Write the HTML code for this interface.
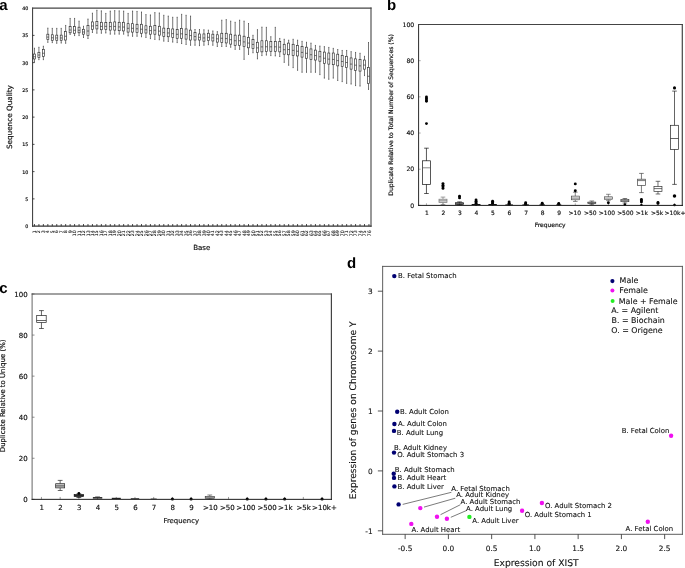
<!DOCTYPE html>
<html lang="en">
<head>
<meta charset="utf-8">
<title>Figure: sequence quality, duplication levels and sex-gene expression</title>
<style>
html,body{margin:0;padding:0;background:#fff;}
body{width:685px;height:568px;overflow:hidden;}
svg{display:block;}
text{font-family:"DejaVu Sans", "Liberation Sans", sans-serif;stroke:#111;stroke-width:0.17px;}
text.pl{font-family:"Liberation Sans", "DejaVu Sans", sans-serif;stroke:none;}
#panel-d text{stroke-width:0.1px;}
</style>
</head>
<body>
<svg width="685" height="568" viewBox="0 0 685 568" text-rendering="geometricPrecision">
<rect x="0" y="0" width="685" height="568" fill="#ffffff"/>
<g id="panel-a" font-family='"DejaVu Sans", "Liberation Sans", sans-serif'>
<line x1="32.6" y1="7.6" x2="32.6" y2="226.7" stroke="#333" stroke-width="1.0" />
<line x1="371" y1="7.6" x2="371" y2="226.7" stroke="#444" stroke-width="1.1" />
<line x1="32.1" y1="8.15" x2="371.55" y2="8.15" stroke="#444" stroke-width="1.1" />
<line x1="32.1" y1="226.1" x2="371.55" y2="226.1" stroke="#333" stroke-width="1.2" />
<text x="28.3" y="228.1" font-size="4.8" text-anchor="end" fill="#000" >0</text>
<line x1="32.6" y1="198.86" x2="34.5" y2="198.86" stroke="#222" stroke-width="0.8" />
<text x="28.3" y="200.86" font-size="4.8" text-anchor="end" fill="#000" >5</text>
<line x1="32.6" y1="171.61" x2="34.5" y2="171.61" stroke="#222" stroke-width="0.8" />
<text x="28.3" y="173.61" font-size="4.8" text-anchor="end" fill="#000" >10</text>
<line x1="32.6" y1="144.37" x2="34.5" y2="144.37" stroke="#222" stroke-width="0.8" />
<text x="28.3" y="146.37" font-size="4.8" text-anchor="end" fill="#000" >15</text>
<line x1="32.6" y1="117.12" x2="34.5" y2="117.12" stroke="#222" stroke-width="0.8" />
<text x="28.3" y="119.12" font-size="4.8" text-anchor="end" fill="#000" >20</text>
<line x1="32.6" y1="89.88" x2="34.5" y2="89.88" stroke="#222" stroke-width="0.8" />
<text x="28.3" y="91.88" font-size="4.8" text-anchor="end" fill="#000" >25</text>
<line x1="32.6" y1="62.64" x2="34.5" y2="62.64" stroke="#222" stroke-width="0.8" />
<text x="28.3" y="64.64" font-size="4.8" text-anchor="end" fill="#000" >30</text>
<line x1="32.6" y1="35.39" x2="34.5" y2="35.39" stroke="#222" stroke-width="0.8" />
<text x="28.3" y="37.39" font-size="4.8" text-anchor="end" fill="#000" >35</text>
<text x="28.3" y="10.15" font-size="4.8" text-anchor="end" fill="#000" >40</text>
<line x1="34.45" y1="226.1" x2="34.45" y2="224" stroke="#222" stroke-width="0.8" />
<text x="36.05" y="230.2" font-size="4.7" text-anchor="end" fill="#222" transform="rotate(-90 36.05 230.2)" style="stroke-width:0.08px">1</text>
<line x1="38.91" y1="226.1" x2="38.91" y2="224" stroke="#222" stroke-width="0.8" />
<text x="40.51" y="230.2" font-size="4.7" text-anchor="end" fill="#222" transform="rotate(-90 40.51 230.2)" style="stroke-width:0.08px">2</text>
<line x1="43.37" y1="226.1" x2="43.37" y2="224" stroke="#222" stroke-width="0.8" />
<text x="44.97" y="230.2" font-size="4.7" text-anchor="end" fill="#222" transform="rotate(-90 44.97 230.2)" style="stroke-width:0.08px">3</text>
<line x1="47.83" y1="226.1" x2="47.83" y2="224" stroke="#222" stroke-width="0.8" />
<text x="49.43" y="230.2" font-size="4.7" text-anchor="end" fill="#222" transform="rotate(-90 49.43 230.2)" style="stroke-width:0.08px">4</text>
<line x1="52.29" y1="226.1" x2="52.29" y2="224" stroke="#222" stroke-width="0.8" />
<text x="53.89" y="230.2" font-size="4.7" text-anchor="end" fill="#222" transform="rotate(-90 53.89 230.2)" style="stroke-width:0.08px">5</text>
<line x1="56.75" y1="226.1" x2="56.75" y2="224" stroke="#222" stroke-width="0.8" />
<text x="58.35" y="230.2" font-size="4.7" text-anchor="end" fill="#222" transform="rotate(-90 58.35 230.2)" style="stroke-width:0.08px">6</text>
<line x1="61.21" y1="226.1" x2="61.21" y2="224" stroke="#222" stroke-width="0.8" />
<text x="62.81" y="230.2" font-size="4.7" text-anchor="end" fill="#222" transform="rotate(-90 62.81 230.2)" style="stroke-width:0.08px">7</text>
<line x1="65.67" y1="226.1" x2="65.67" y2="224" stroke="#222" stroke-width="0.8" />
<text x="67.27" y="230.2" font-size="4.7" text-anchor="end" fill="#222" transform="rotate(-90 67.27 230.2)" style="stroke-width:0.08px">8</text>
<line x1="70.13" y1="226.1" x2="70.13" y2="224" stroke="#222" stroke-width="0.8" />
<text x="71.73" y="230.2" font-size="4.7" text-anchor="end" fill="#222" transform="rotate(-90 71.73 230.2)" style="stroke-width:0.08px">9</text>
<line x1="74.59" y1="226.1" x2="74.59" y2="224" stroke="#222" stroke-width="0.8" />
<text x="76.19" y="230.2" font-size="4.7" text-anchor="end" fill="#222" transform="rotate(-90 76.19 230.2)" style="stroke-width:0.08px">10</text>
<line x1="79.05" y1="226.1" x2="79.05" y2="224" stroke="#222" stroke-width="0.8" />
<text x="80.65" y="230.2" font-size="4.7" text-anchor="end" fill="#222" transform="rotate(-90 80.65 230.2)" style="stroke-width:0.08px">11</text>
<line x1="83.51" y1="226.1" x2="83.51" y2="224" stroke="#222" stroke-width="0.8" />
<text x="85.11" y="230.2" font-size="4.7" text-anchor="end" fill="#222" transform="rotate(-90 85.11 230.2)" style="stroke-width:0.08px">12</text>
<line x1="87.97" y1="226.1" x2="87.97" y2="224" stroke="#222" stroke-width="0.8" />
<text x="89.57" y="230.2" font-size="4.7" text-anchor="end" fill="#222" transform="rotate(-90 89.57 230.2)" style="stroke-width:0.08px">13</text>
<line x1="92.43" y1="226.1" x2="92.43" y2="224" stroke="#222" stroke-width="0.8" />
<text x="94.03" y="230.2" font-size="4.7" text-anchor="end" fill="#222" transform="rotate(-90 94.03 230.2)" style="stroke-width:0.08px">14</text>
<line x1="96.89" y1="226.1" x2="96.89" y2="224" stroke="#222" stroke-width="0.8" />
<text x="98.49" y="230.2" font-size="4.7" text-anchor="end" fill="#222" transform="rotate(-90 98.49 230.2)" style="stroke-width:0.08px">15</text>
<line x1="101.35" y1="226.1" x2="101.35" y2="224" stroke="#222" stroke-width="0.8" />
<text x="102.95" y="230.2" font-size="4.7" text-anchor="end" fill="#222" transform="rotate(-90 102.95 230.2)" style="stroke-width:0.08px">16</text>
<line x1="105.81" y1="226.1" x2="105.81" y2="224" stroke="#222" stroke-width="0.8" />
<text x="107.41" y="230.2" font-size="4.7" text-anchor="end" fill="#222" transform="rotate(-90 107.41 230.2)" style="stroke-width:0.08px">17</text>
<line x1="110.27" y1="226.1" x2="110.27" y2="224" stroke="#222" stroke-width="0.8" />
<text x="111.87" y="230.2" font-size="4.7" text-anchor="end" fill="#222" transform="rotate(-90 111.87 230.2)" style="stroke-width:0.08px">18</text>
<line x1="114.73" y1="226.1" x2="114.73" y2="224" stroke="#222" stroke-width="0.8" />
<text x="116.33" y="230.2" font-size="4.7" text-anchor="end" fill="#222" transform="rotate(-90 116.33 230.2)" style="stroke-width:0.08px">19</text>
<line x1="119.19" y1="226.1" x2="119.19" y2="224" stroke="#222" stroke-width="0.8" />
<text x="120.79" y="230.2" font-size="4.7" text-anchor="end" fill="#222" transform="rotate(-90 120.79 230.2)" style="stroke-width:0.08px">20</text>
<line x1="123.65" y1="226.1" x2="123.65" y2="224" stroke="#222" stroke-width="0.8" />
<text x="125.25" y="230.2" font-size="4.7" text-anchor="end" fill="#222" transform="rotate(-90 125.25 230.2)" style="stroke-width:0.08px">21</text>
<line x1="128.11" y1="226.1" x2="128.11" y2="224" stroke="#222" stroke-width="0.8" />
<text x="129.71" y="230.2" font-size="4.7" text-anchor="end" fill="#222" transform="rotate(-90 129.71 230.2)" style="stroke-width:0.08px">22</text>
<line x1="132.57" y1="226.1" x2="132.57" y2="224" stroke="#222" stroke-width="0.8" />
<text x="134.17" y="230.2" font-size="4.7" text-anchor="end" fill="#222" transform="rotate(-90 134.17 230.2)" style="stroke-width:0.08px">23</text>
<line x1="137.03" y1="226.1" x2="137.03" y2="224" stroke="#222" stroke-width="0.8" />
<text x="138.63" y="230.2" font-size="4.7" text-anchor="end" fill="#222" transform="rotate(-90 138.63 230.2)" style="stroke-width:0.08px">24</text>
<line x1="141.49" y1="226.1" x2="141.49" y2="224" stroke="#222" stroke-width="0.8" />
<text x="143.09" y="230.2" font-size="4.7" text-anchor="end" fill="#222" transform="rotate(-90 143.09 230.2)" style="stroke-width:0.08px">25</text>
<line x1="145.95" y1="226.1" x2="145.95" y2="224" stroke="#222" stroke-width="0.8" />
<text x="147.55" y="230.2" font-size="4.7" text-anchor="end" fill="#222" transform="rotate(-90 147.55 230.2)" style="stroke-width:0.08px">26</text>
<line x1="150.41" y1="226.1" x2="150.41" y2="224" stroke="#222" stroke-width="0.8" />
<text x="152.01" y="230.2" font-size="4.7" text-anchor="end" fill="#222" transform="rotate(-90 152.01 230.2)" style="stroke-width:0.08px">27</text>
<line x1="154.87" y1="226.1" x2="154.87" y2="224" stroke="#222" stroke-width="0.8" />
<text x="156.47" y="230.2" font-size="4.7" text-anchor="end" fill="#222" transform="rotate(-90 156.47 230.2)" style="stroke-width:0.08px">28</text>
<line x1="159.33" y1="226.1" x2="159.33" y2="224" stroke="#222" stroke-width="0.8" />
<text x="160.93" y="230.2" font-size="4.7" text-anchor="end" fill="#222" transform="rotate(-90 160.93 230.2)" style="stroke-width:0.08px">29</text>
<line x1="163.79" y1="226.1" x2="163.79" y2="224" stroke="#222" stroke-width="0.8" />
<text x="165.39" y="230.2" font-size="4.7" text-anchor="end" fill="#222" transform="rotate(-90 165.39 230.2)" style="stroke-width:0.08px">30</text>
<line x1="168.25" y1="226.1" x2="168.25" y2="224" stroke="#222" stroke-width="0.8" />
<text x="169.85" y="230.2" font-size="4.7" text-anchor="end" fill="#222" transform="rotate(-90 169.85 230.2)" style="stroke-width:0.08px">31</text>
<line x1="172.71" y1="226.1" x2="172.71" y2="224" stroke="#222" stroke-width="0.8" />
<text x="174.31" y="230.2" font-size="4.7" text-anchor="end" fill="#222" transform="rotate(-90 174.31 230.2)" style="stroke-width:0.08px">32</text>
<line x1="177.17" y1="226.1" x2="177.17" y2="224" stroke="#222" stroke-width="0.8" />
<text x="178.77" y="230.2" font-size="4.7" text-anchor="end" fill="#222" transform="rotate(-90 178.77 230.2)" style="stroke-width:0.08px">33</text>
<line x1="181.63" y1="226.1" x2="181.63" y2="224" stroke="#222" stroke-width="0.8" />
<text x="183.23" y="230.2" font-size="4.7" text-anchor="end" fill="#222" transform="rotate(-90 183.23 230.2)" style="stroke-width:0.08px">34</text>
<line x1="186.09" y1="226.1" x2="186.09" y2="224" stroke="#222" stroke-width="0.8" />
<text x="187.69" y="230.2" font-size="4.7" text-anchor="end" fill="#222" transform="rotate(-90 187.69 230.2)" style="stroke-width:0.08px">35</text>
<line x1="190.55" y1="226.1" x2="190.55" y2="224" stroke="#222" stroke-width="0.8" />
<text x="192.15" y="230.2" font-size="4.7" text-anchor="end" fill="#222" transform="rotate(-90 192.15 230.2)" style="stroke-width:0.08px">36</text>
<line x1="195.01" y1="226.1" x2="195.01" y2="224" stroke="#222" stroke-width="0.8" />
<text x="196.61" y="230.2" font-size="4.7" text-anchor="end" fill="#222" transform="rotate(-90 196.61 230.2)" style="stroke-width:0.08px">37</text>
<line x1="199.47" y1="226.1" x2="199.47" y2="224" stroke="#222" stroke-width="0.8" />
<text x="201.07" y="230.2" font-size="4.7" text-anchor="end" fill="#222" transform="rotate(-90 201.07 230.2)" style="stroke-width:0.08px">38</text>
<line x1="203.93" y1="226.1" x2="203.93" y2="224" stroke="#222" stroke-width="0.8" />
<text x="205.53" y="230.2" font-size="4.7" text-anchor="end" fill="#222" transform="rotate(-90 205.53 230.2)" style="stroke-width:0.08px">39</text>
<line x1="208.39" y1="226.1" x2="208.39" y2="224" stroke="#222" stroke-width="0.8" />
<text x="209.99" y="230.2" font-size="4.7" text-anchor="end" fill="#222" transform="rotate(-90 209.99 230.2)" style="stroke-width:0.08px">40</text>
<line x1="212.85" y1="226.1" x2="212.85" y2="224" stroke="#222" stroke-width="0.8" />
<text x="214.45" y="230.2" font-size="4.7" text-anchor="end" fill="#222" transform="rotate(-90 214.45 230.2)" style="stroke-width:0.08px">41</text>
<line x1="217.31" y1="226.1" x2="217.31" y2="224" stroke="#222" stroke-width="0.8" />
<text x="218.91" y="230.2" font-size="4.7" text-anchor="end" fill="#222" transform="rotate(-90 218.91 230.2)" style="stroke-width:0.08px">42</text>
<line x1="221.77" y1="226.1" x2="221.77" y2="224" stroke="#222" stroke-width="0.8" />
<text x="223.37" y="230.2" font-size="4.7" text-anchor="end" fill="#222" transform="rotate(-90 223.37 230.2)" style="stroke-width:0.08px">43</text>
<line x1="226.23" y1="226.1" x2="226.23" y2="224" stroke="#222" stroke-width="0.8" />
<text x="227.83" y="230.2" font-size="4.7" text-anchor="end" fill="#222" transform="rotate(-90 227.83 230.2)" style="stroke-width:0.08px">44</text>
<line x1="230.69" y1="226.1" x2="230.69" y2="224" stroke="#222" stroke-width="0.8" />
<text x="232.29" y="230.2" font-size="4.7" text-anchor="end" fill="#222" transform="rotate(-90 232.29 230.2)" style="stroke-width:0.08px">45</text>
<line x1="235.15" y1="226.1" x2="235.15" y2="224" stroke="#222" stroke-width="0.8" />
<text x="236.75" y="230.2" font-size="4.7" text-anchor="end" fill="#222" transform="rotate(-90 236.75 230.2)" style="stroke-width:0.08px">46</text>
<line x1="239.61" y1="226.1" x2="239.61" y2="224" stroke="#222" stroke-width="0.8" />
<text x="241.21" y="230.2" font-size="4.7" text-anchor="end" fill="#222" transform="rotate(-90 241.21 230.2)" style="stroke-width:0.08px">47</text>
<line x1="244.07" y1="226.1" x2="244.07" y2="224" stroke="#222" stroke-width="0.8" />
<text x="245.67" y="230.2" font-size="4.7" text-anchor="end" fill="#222" transform="rotate(-90 245.67 230.2)" style="stroke-width:0.08px">48</text>
<line x1="248.53" y1="226.1" x2="248.53" y2="224" stroke="#222" stroke-width="0.8" />
<text x="250.13" y="230.2" font-size="4.7" text-anchor="end" fill="#222" transform="rotate(-90 250.13 230.2)" style="stroke-width:0.08px">49</text>
<line x1="252.99" y1="226.1" x2="252.99" y2="224" stroke="#222" stroke-width="0.8" />
<text x="254.59" y="230.2" font-size="4.7" text-anchor="end" fill="#222" transform="rotate(-90 254.59 230.2)" style="stroke-width:0.08px">50</text>
<line x1="257.45" y1="226.1" x2="257.45" y2="224" stroke="#222" stroke-width="0.8" />
<text x="259.05" y="230.2" font-size="4.7" text-anchor="end" fill="#222" transform="rotate(-90 259.05 230.2)" style="stroke-width:0.08px">51</text>
<line x1="261.91" y1="226.1" x2="261.91" y2="224" stroke="#222" stroke-width="0.8" />
<text x="263.51" y="230.2" font-size="4.7" text-anchor="end" fill="#222" transform="rotate(-90 263.51 230.2)" style="stroke-width:0.08px">52</text>
<line x1="266.37" y1="226.1" x2="266.37" y2="224" stroke="#222" stroke-width="0.8" />
<text x="267.97" y="230.2" font-size="4.7" text-anchor="end" fill="#222" transform="rotate(-90 267.97 230.2)" style="stroke-width:0.08px">53</text>
<line x1="270.83" y1="226.1" x2="270.83" y2="224" stroke="#222" stroke-width="0.8" />
<text x="272.43" y="230.2" font-size="4.7" text-anchor="end" fill="#222" transform="rotate(-90 272.43 230.2)" style="stroke-width:0.08px">54</text>
<line x1="275.29" y1="226.1" x2="275.29" y2="224" stroke="#222" stroke-width="0.8" />
<text x="276.89" y="230.2" font-size="4.7" text-anchor="end" fill="#222" transform="rotate(-90 276.89 230.2)" style="stroke-width:0.08px">55</text>
<line x1="279.75" y1="226.1" x2="279.75" y2="224" stroke="#222" stroke-width="0.8" />
<text x="281.35" y="230.2" font-size="4.7" text-anchor="end" fill="#222" transform="rotate(-90 281.35 230.2)" style="stroke-width:0.08px">56</text>
<line x1="284.21" y1="226.1" x2="284.21" y2="224" stroke="#222" stroke-width="0.8" />
<text x="285.81" y="230.2" font-size="4.7" text-anchor="end" fill="#222" transform="rotate(-90 285.81 230.2)" style="stroke-width:0.08px">57</text>
<line x1="288.67" y1="226.1" x2="288.67" y2="224" stroke="#222" stroke-width="0.8" />
<text x="290.27" y="230.2" font-size="4.7" text-anchor="end" fill="#222" transform="rotate(-90 290.27 230.2)" style="stroke-width:0.08px">58</text>
<line x1="293.13" y1="226.1" x2="293.13" y2="224" stroke="#222" stroke-width="0.8" />
<text x="294.73" y="230.2" font-size="4.7" text-anchor="end" fill="#222" transform="rotate(-90 294.73 230.2)" style="stroke-width:0.08px">59</text>
<line x1="297.59" y1="226.1" x2="297.59" y2="224" stroke="#222" stroke-width="0.8" />
<text x="299.19" y="230.2" font-size="4.7" text-anchor="end" fill="#222" transform="rotate(-90 299.19 230.2)" style="stroke-width:0.08px">60</text>
<line x1="302.05" y1="226.1" x2="302.05" y2="224" stroke="#222" stroke-width="0.8" />
<text x="303.65" y="230.2" font-size="4.7" text-anchor="end" fill="#222" transform="rotate(-90 303.65 230.2)" style="stroke-width:0.08px">61</text>
<line x1="306.51" y1="226.1" x2="306.51" y2="224" stroke="#222" stroke-width="0.8" />
<text x="308.11" y="230.2" font-size="4.7" text-anchor="end" fill="#222" transform="rotate(-90 308.11 230.2)" style="stroke-width:0.08px">62</text>
<line x1="310.97" y1="226.1" x2="310.97" y2="224" stroke="#222" stroke-width="0.8" />
<text x="312.57" y="230.2" font-size="4.7" text-anchor="end" fill="#222" transform="rotate(-90 312.57 230.2)" style="stroke-width:0.08px">63</text>
<line x1="315.43" y1="226.1" x2="315.43" y2="224" stroke="#222" stroke-width="0.8" />
<text x="317.03" y="230.2" font-size="4.7" text-anchor="end" fill="#222" transform="rotate(-90 317.03 230.2)" style="stroke-width:0.08px">64</text>
<line x1="319.89" y1="226.1" x2="319.89" y2="224" stroke="#222" stroke-width="0.8" />
<text x="321.49" y="230.2" font-size="4.7" text-anchor="end" fill="#222" transform="rotate(-90 321.49 230.2)" style="stroke-width:0.08px">65</text>
<line x1="324.35" y1="226.1" x2="324.35" y2="224" stroke="#222" stroke-width="0.8" />
<text x="325.95" y="230.2" font-size="4.7" text-anchor="end" fill="#222" transform="rotate(-90 325.95 230.2)" style="stroke-width:0.08px">66</text>
<line x1="328.81" y1="226.1" x2="328.81" y2="224" stroke="#222" stroke-width="0.8" />
<text x="330.41" y="230.2" font-size="4.7" text-anchor="end" fill="#222" transform="rotate(-90 330.41 230.2)" style="stroke-width:0.08px">67</text>
<line x1="333.27" y1="226.1" x2="333.27" y2="224" stroke="#222" stroke-width="0.8" />
<text x="334.87" y="230.2" font-size="4.7" text-anchor="end" fill="#222" transform="rotate(-90 334.87 230.2)" style="stroke-width:0.08px">68</text>
<line x1="337.73" y1="226.1" x2="337.73" y2="224" stroke="#222" stroke-width="0.8" />
<text x="339.33" y="230.2" font-size="4.7" text-anchor="end" fill="#222" transform="rotate(-90 339.33 230.2)" style="stroke-width:0.08px">69</text>
<line x1="342.19" y1="226.1" x2="342.19" y2="224" stroke="#222" stroke-width="0.8" />
<text x="343.79" y="230.2" font-size="4.7" text-anchor="end" fill="#222" transform="rotate(-90 343.79 230.2)" style="stroke-width:0.08px">70</text>
<line x1="346.65" y1="226.1" x2="346.65" y2="224" stroke="#222" stroke-width="0.8" />
<text x="348.25" y="230.2" font-size="4.7" text-anchor="end" fill="#222" transform="rotate(-90 348.25 230.2)" style="stroke-width:0.08px">71</text>
<line x1="351.11" y1="226.1" x2="351.11" y2="224" stroke="#222" stroke-width="0.8" />
<text x="352.71" y="230.2" font-size="4.7" text-anchor="end" fill="#222" transform="rotate(-90 352.71 230.2)" style="stroke-width:0.08px">72</text>
<line x1="355.57" y1="226.1" x2="355.57" y2="224" stroke="#222" stroke-width="0.8" />
<text x="357.17" y="230.2" font-size="4.7" text-anchor="end" fill="#222" transform="rotate(-90 357.17 230.2)" style="stroke-width:0.08px">73</text>
<line x1="360.03" y1="226.1" x2="360.03" y2="224" stroke="#222" stroke-width="0.8" />
<text x="361.63" y="230.2" font-size="4.7" text-anchor="end" fill="#222" transform="rotate(-90 361.63 230.2)" style="stroke-width:0.08px">74</text>
<line x1="364.49" y1="226.1" x2="364.49" y2="224" stroke="#222" stroke-width="0.8" />
<text x="366.09" y="230.2" font-size="4.7" text-anchor="end" fill="#222" transform="rotate(-90 366.09 230.2)" style="stroke-width:0.08px">75</text>
<line x1="368.95" y1="226.1" x2="368.95" y2="224" stroke="#222" stroke-width="0.8" />
<text x="370.55" y="230.2" font-size="4.7" text-anchor="end" fill="#222" transform="rotate(-90 370.55 230.2)" style="stroke-width:0.08px">76</text>
<line x1="34.45" y1="48.21" x2="34.45" y2="54.05" stroke="#2a2a2a" stroke-width="0.65" />
<line x1="34.45" y1="58.96" x2="34.45" y2="62.23" stroke="#2a2a2a" stroke-width="0.65" />
<line x1="33.95" y1="48.21" x2="34.95" y2="48.21" stroke="#2a2a2a" stroke-width="0.65" />
<line x1="33.95" y1="62.23" x2="34.95" y2="62.23" stroke="#2a2a2a" stroke-width="0.65" />
<rect x="33.45" y="54.05" width="2" height="4.91" fill="none" stroke="#2a2a2a" stroke-width="0.65"/>
<line x1="33.45" y1="56.75" x2="35.45" y2="56.75" stroke="#2a2a2a" stroke-width="0.65" />
<line x1="38.91" y1="47.28" x2="38.91" y2="52.3" stroke="#2a2a2a" stroke-width="0.65" />
<line x1="38.91" y1="57.32" x2="38.91" y2="59.66" stroke="#2a2a2a" stroke-width="0.65" />
<line x1="38.41" y1="47.28" x2="39.41" y2="47.28" stroke="#2a2a2a" stroke-width="0.65" />
<line x1="38.41" y1="59.66" x2="39.41" y2="59.66" stroke="#2a2a2a" stroke-width="0.65" />
<rect x="37.91" y="52.3" width="2" height="5.02" fill="none" stroke="#2a2a2a" stroke-width="0.65"/>
<line x1="37.91" y1="55.06" x2="39.91" y2="55.06" stroke="#2a2a2a" stroke-width="0.65" />
<line x1="43.37" y1="46.23" x2="43.37" y2="49.38" stroke="#2a2a2a" stroke-width="0.65" />
<line x1="43.37" y1="56.39" x2="43.37" y2="59.66" stroke="#2a2a2a" stroke-width="0.65" />
<line x1="42.87" y1="46.23" x2="43.87" y2="46.23" stroke="#2a2a2a" stroke-width="0.65" />
<line x1="42.87" y1="59.66" x2="43.87" y2="59.66" stroke="#2a2a2a" stroke-width="0.65" />
<rect x="42.37" y="49.38" width="2" height="7.01" fill="none" stroke="#2a2a2a" stroke-width="0.65"/>
<line x1="42.37" y1="53.23" x2="44.37" y2="53.23" stroke="#2a2a2a" stroke-width="0.65" />
<line x1="47.83" y1="28.12" x2="47.83" y2="34.2" stroke="#2a2a2a" stroke-width="0.65" />
<line x1="47.83" y1="39.45" x2="47.83" y2="42.37" stroke="#2a2a2a" stroke-width="0.65" />
<line x1="47.33" y1="28.12" x2="48.33" y2="28.12" stroke="#2a2a2a" stroke-width="0.65" />
<line x1="47.33" y1="42.37" x2="48.33" y2="42.37" stroke="#2a2a2a" stroke-width="0.65" />
<rect x="46.83" y="34.2" width="2" height="5.26" fill="none" stroke="#2a2a2a" stroke-width="0.65"/>
<line x1="46.83" y1="37.09" x2="48.83" y2="37.09" stroke="#2a2a2a" stroke-width="0.65" />
<line x1="52.29" y1="28.36" x2="52.29" y2="34.78" stroke="#2a2a2a" stroke-width="0.65" />
<line x1="52.29" y1="40.27" x2="52.29" y2="42.61" stroke="#2a2a2a" stroke-width="0.65" />
<line x1="51.79" y1="28.36" x2="52.79" y2="28.36" stroke="#2a2a2a" stroke-width="0.65" />
<line x1="51.79" y1="42.61" x2="52.79" y2="42.61" stroke="#2a2a2a" stroke-width="0.65" />
<rect x="51.29" y="34.78" width="2" height="5.49" fill="none" stroke="#2a2a2a" stroke-width="0.65"/>
<line x1="51.29" y1="37.8" x2="53.29" y2="37.8" stroke="#2a2a2a" stroke-width="0.65" />
<line x1="56.75" y1="28.36" x2="56.75" y2="35.13" stroke="#2a2a2a" stroke-width="0.65" />
<line x1="56.75" y1="40.27" x2="56.75" y2="43.31" stroke="#2a2a2a" stroke-width="0.65" />
<line x1="56.25" y1="28.36" x2="57.25" y2="28.36" stroke="#2a2a2a" stroke-width="0.65" />
<line x1="56.25" y1="43.31" x2="57.25" y2="43.31" stroke="#2a2a2a" stroke-width="0.65" />
<rect x="55.75" y="35.13" width="2" height="5.14" fill="none" stroke="#2a2a2a" stroke-width="0.65"/>
<line x1="55.75" y1="37.96" x2="57.75" y2="37.96" stroke="#2a2a2a" stroke-width="0.65" />
<line x1="61.21" y1="28.36" x2="61.21" y2="35.13" stroke="#2a2a2a" stroke-width="0.65" />
<line x1="61.21" y1="40.27" x2="61.21" y2="43.07" stroke="#2a2a2a" stroke-width="0.65" />
<line x1="60.71" y1="28.36" x2="61.71" y2="28.36" stroke="#2a2a2a" stroke-width="0.65" />
<line x1="60.71" y1="43.07" x2="61.71" y2="43.07" stroke="#2a2a2a" stroke-width="0.65" />
<rect x="60.21" y="35.13" width="2" height="5.14" fill="none" stroke="#2a2a2a" stroke-width="0.65"/>
<line x1="60.21" y1="37.96" x2="62.21" y2="37.96" stroke="#2a2a2a" stroke-width="0.65" />
<line x1="65.67" y1="25.44" x2="65.67" y2="31.63" stroke="#2a2a2a" stroke-width="0.65" />
<line x1="65.67" y1="40.04" x2="65.67" y2="43.31" stroke="#2a2a2a" stroke-width="0.65" />
<line x1="65.17" y1="25.44" x2="66.17" y2="25.44" stroke="#2a2a2a" stroke-width="0.65" />
<line x1="65.17" y1="43.31" x2="66.17" y2="43.31" stroke="#2a2a2a" stroke-width="0.65" />
<rect x="64.67" y="31.63" width="2" height="8.41" fill="none" stroke="#2a2a2a" stroke-width="0.65"/>
<line x1="64.67" y1="36.25" x2="66.67" y2="36.25" stroke="#2a2a2a" stroke-width="0.65" />
<line x1="70.13" y1="18.43" x2="70.13" y2="26.61" stroke="#2a2a2a" stroke-width="0.65" />
<line x1="70.13" y1="32.8" x2="70.13" y2="34.43" stroke="#2a2a2a" stroke-width="0.65" />
<line x1="69.63" y1="18.43" x2="70.63" y2="18.43" stroke="#2a2a2a" stroke-width="0.65" />
<line x1="69.63" y1="34.43" x2="70.63" y2="34.43" stroke="#2a2a2a" stroke-width="0.65" />
<rect x="69.13" y="26.61" width="2" height="6.19" fill="none" stroke="#2a2a2a" stroke-width="0.65"/>
<line x1="69.13" y1="30.01" x2="71.13" y2="30.01" stroke="#2a2a2a" stroke-width="0.65" />
<line x1="74.59" y1="18.43" x2="74.59" y2="26.61" stroke="#2a2a2a" stroke-width="0.65" />
<line x1="74.59" y1="33.26" x2="74.59" y2="35.6" stroke="#2a2a2a" stroke-width="0.65" />
<line x1="74.09" y1="18.43" x2="75.09" y2="18.43" stroke="#2a2a2a" stroke-width="0.65" />
<line x1="74.09" y1="35.6" x2="75.09" y2="35.6" stroke="#2a2a2a" stroke-width="0.65" />
<rect x="73.59" y="26.61" width="2" height="6.66" fill="none" stroke="#2a2a2a" stroke-width="0.65"/>
<line x1="73.59" y1="30.27" x2="75.59" y2="30.27" stroke="#2a2a2a" stroke-width="0.65" />
<line x1="79.05" y1="21.12" x2="79.05" y2="27.19" stroke="#2a2a2a" stroke-width="0.65" />
<line x1="79.05" y1="32.8" x2="79.05" y2="35.6" stroke="#2a2a2a" stroke-width="0.65" />
<line x1="78.55" y1="21.12" x2="79.55" y2="21.12" stroke="#2a2a2a" stroke-width="0.65" />
<line x1="78.55" y1="35.6" x2="79.55" y2="35.6" stroke="#2a2a2a" stroke-width="0.65" />
<rect x="78.05" y="27.19" width="2" height="5.61" fill="none" stroke="#2a2a2a" stroke-width="0.65"/>
<line x1="78.05" y1="30.27" x2="80.05" y2="30.27" stroke="#2a2a2a" stroke-width="0.65" />
<line x1="83.51" y1="26.26" x2="83.51" y2="29.29" stroke="#2a2a2a" stroke-width="0.65" />
<line x1="83.51" y1="34.2" x2="83.51" y2="37.47" stroke="#2a2a2a" stroke-width="0.65" />
<line x1="83.01" y1="26.26" x2="84.01" y2="26.26" stroke="#2a2a2a" stroke-width="0.65" />
<line x1="83.01" y1="37.47" x2="84.01" y2="37.47" stroke="#2a2a2a" stroke-width="0.65" />
<rect x="82.51" y="29.29" width="2" height="4.91" fill="none" stroke="#2a2a2a" stroke-width="0.65"/>
<line x1="82.51" y1="31.99" x2="84.51" y2="31.99" stroke="#2a2a2a" stroke-width="0.65" />
<line x1="87.97" y1="19.01" x2="87.97" y2="25.44" stroke="#2a2a2a" stroke-width="0.65" />
<line x1="87.97" y1="35.6" x2="87.97" y2="38.52" stroke="#2a2a2a" stroke-width="0.65" />
<line x1="87.47" y1="19.01" x2="88.47" y2="19.01" stroke="#2a2a2a" stroke-width="0.65" />
<line x1="87.47" y1="38.52" x2="88.47" y2="38.52" stroke="#2a2a2a" stroke-width="0.65" />
<rect x="86.97" y="25.44" width="2" height="10.16" fill="none" stroke="#2a2a2a" stroke-width="0.65"/>
<line x1="86.97" y1="31.03" x2="88.97" y2="31.03" stroke="#2a2a2a" stroke-width="0.65" />
<line x1="92.43" y1="13.18" x2="92.43" y2="21.93" stroke="#2a2a2a" stroke-width="0.65" />
<line x1="92.43" y1="29.29" x2="92.43" y2="32.45" stroke="#2a2a2a" stroke-width="0.65" />
<line x1="91.93" y1="13.18" x2="92.93" y2="13.18" stroke="#2a2a2a" stroke-width="0.65" />
<line x1="91.93" y1="32.45" x2="92.93" y2="32.45" stroke="#2a2a2a" stroke-width="0.65" />
<rect x="91.43" y="21.93" width="2" height="7.36" fill="none" stroke="#2a2a2a" stroke-width="0.65"/>
<line x1="91.43" y1="25.98" x2="93.43" y2="25.98" stroke="#2a2a2a" stroke-width="0.65" />
<line x1="96.89" y1="10.26" x2="96.89" y2="21.35" stroke="#2a2a2a" stroke-width="0.65" />
<line x1="96.89" y1="28.94" x2="96.89" y2="33.26" stroke="#2a2a2a" stroke-width="0.65" />
<line x1="96.39" y1="10.26" x2="97.39" y2="10.26" stroke="#2a2a2a" stroke-width="0.65" />
<line x1="96.39" y1="33.26" x2="97.39" y2="33.26" stroke="#2a2a2a" stroke-width="0.65" />
<rect x="95.89" y="21.35" width="2" height="7.59" fill="none" stroke="#2a2a2a" stroke-width="0.65"/>
<line x1="95.89" y1="25.53" x2="97.89" y2="25.53" stroke="#2a2a2a" stroke-width="0.65" />
<line x1="101.35" y1="10.84" x2="101.35" y2="22.28" stroke="#2a2a2a" stroke-width="0.65" />
<line x1="101.35" y1="29.76" x2="101.35" y2="33.26" stroke="#2a2a2a" stroke-width="0.65" />
<line x1="100.85" y1="10.84" x2="101.85" y2="10.84" stroke="#2a2a2a" stroke-width="0.65" />
<line x1="100.85" y1="33.26" x2="101.85" y2="33.26" stroke="#2a2a2a" stroke-width="0.65" />
<rect x="100.35" y="22.28" width="2" height="7.47" fill="none" stroke="#2a2a2a" stroke-width="0.65"/>
<line x1="100.35" y1="26.4" x2="102.35" y2="26.4" stroke="#2a2a2a" stroke-width="0.65" />
<line x1="105.81" y1="13.41" x2="105.81" y2="22.52" stroke="#2a2a2a" stroke-width="0.65" />
<line x1="105.81" y1="29.53" x2="105.81" y2="33.03" stroke="#2a2a2a" stroke-width="0.65" />
<line x1="105.31" y1="13.41" x2="106.31" y2="13.41" stroke="#2a2a2a" stroke-width="0.65" />
<line x1="105.31" y1="33.03" x2="106.31" y2="33.03" stroke="#2a2a2a" stroke-width="0.65" />
<rect x="104.81" y="22.52" width="2" height="7.01" fill="none" stroke="#2a2a2a" stroke-width="0.65"/>
<line x1="104.81" y1="26.37" x2="106.81" y2="26.37" stroke="#2a2a2a" stroke-width="0.65" />
<line x1="110.27" y1="11.07" x2="110.27" y2="22.28" stroke="#2a2a2a" stroke-width="0.65" />
<line x1="110.27" y1="30.11" x2="110.27" y2="34.2" stroke="#2a2a2a" stroke-width="0.65" />
<line x1="109.77" y1="11.07" x2="110.77" y2="11.07" stroke="#2a2a2a" stroke-width="0.65" />
<line x1="109.77" y1="34.2" x2="110.77" y2="34.2" stroke="#2a2a2a" stroke-width="0.65" />
<rect x="109.27" y="22.28" width="2" height="7.82" fill="none" stroke="#2a2a2a" stroke-width="0.65"/>
<line x1="109.27" y1="26.59" x2="111.27" y2="26.59" stroke="#2a2a2a" stroke-width="0.65" />
<line x1="114.73" y1="10.61" x2="114.73" y2="21.93" stroke="#2a2a2a" stroke-width="0.65" />
<line x1="114.73" y1="30.11" x2="114.73" y2="34.2" stroke="#2a2a2a" stroke-width="0.65" />
<line x1="114.23" y1="10.61" x2="115.23" y2="10.61" stroke="#2a2a2a" stroke-width="0.65" />
<line x1="114.23" y1="34.2" x2="115.23" y2="34.2" stroke="#2a2a2a" stroke-width="0.65" />
<rect x="113.73" y="21.93" width="2" height="8.18" fill="none" stroke="#2a2a2a" stroke-width="0.65"/>
<line x1="113.73" y1="26.43" x2="115.73" y2="26.43" stroke="#2a2a2a" stroke-width="0.65" />
<line x1="119.19" y1="10.84" x2="119.19" y2="22.28" stroke="#2a2a2a" stroke-width="0.65" />
<line x1="119.19" y1="30.69" x2="119.19" y2="34.2" stroke="#2a2a2a" stroke-width="0.65" />
<line x1="118.69" y1="10.84" x2="119.69" y2="10.84" stroke="#2a2a2a" stroke-width="0.65" />
<line x1="118.69" y1="34.2" x2="119.69" y2="34.2" stroke="#2a2a2a" stroke-width="0.65" />
<rect x="118.19" y="22.28" width="2" height="8.41" fill="none" stroke="#2a2a2a" stroke-width="0.65"/>
<line x1="118.19" y1="26.91" x2="120.19" y2="26.91" stroke="#2a2a2a" stroke-width="0.65" />
<line x1="123.65" y1="11.07" x2="123.65" y2="22.28" stroke="#2a2a2a" stroke-width="0.65" />
<line x1="123.65" y1="30.93" x2="123.65" y2="34.2" stroke="#2a2a2a" stroke-width="0.65" />
<line x1="123.15" y1="11.07" x2="124.15" y2="11.07" stroke="#2a2a2a" stroke-width="0.65" />
<line x1="123.15" y1="34.2" x2="124.15" y2="34.2" stroke="#2a2a2a" stroke-width="0.65" />
<rect x="122.65" y="22.28" width="2" height="8.64" fill="none" stroke="#2a2a2a" stroke-width="0.65"/>
<line x1="122.65" y1="27.04" x2="124.65" y2="27.04" stroke="#2a2a2a" stroke-width="0.65" />
<line x1="128.11" y1="13.41" x2="128.11" y2="23.69" stroke="#2a2a2a" stroke-width="0.65" />
<line x1="128.11" y1="32.09" x2="128.11" y2="35.95" stroke="#2a2a2a" stroke-width="0.65" />
<line x1="127.61" y1="13.41" x2="128.61" y2="13.41" stroke="#2a2a2a" stroke-width="0.65" />
<line x1="127.61" y1="35.95" x2="128.61" y2="35.95" stroke="#2a2a2a" stroke-width="0.65" />
<rect x="127.11" y="23.69" width="2" height="8.41" fill="none" stroke="#2a2a2a" stroke-width="0.65"/>
<line x1="127.11" y1="28.31" x2="129.11" y2="28.31" stroke="#2a2a2a" stroke-width="0.65" />
<line x1="132.57" y1="11.07" x2="132.57" y2="23.69" stroke="#2a2a2a" stroke-width="0.65" />
<line x1="132.57" y1="32.09" x2="132.57" y2="36.3" stroke="#2a2a2a" stroke-width="0.65" />
<line x1="132.07" y1="11.07" x2="133.07" y2="11.07" stroke="#2a2a2a" stroke-width="0.65" />
<line x1="132.07" y1="36.3" x2="133.07" y2="36.3" stroke="#2a2a2a" stroke-width="0.65" />
<rect x="131.57" y="23.69" width="2" height="8.41" fill="none" stroke="#2a2a2a" stroke-width="0.65"/>
<line x1="131.57" y1="28.31" x2="133.57" y2="28.31" stroke="#2a2a2a" stroke-width="0.65" />
<line x1="137.03" y1="11.42" x2="137.03" y2="24.27" stroke="#2a2a2a" stroke-width="0.65" />
<line x1="137.03" y1="32.45" x2="137.03" y2="36.3" stroke="#2a2a2a" stroke-width="0.65" />
<line x1="136.53" y1="11.42" x2="137.53" y2="11.42" stroke="#2a2a2a" stroke-width="0.65" />
<line x1="136.53" y1="36.3" x2="137.53" y2="36.3" stroke="#2a2a2a" stroke-width="0.65" />
<rect x="136.03" y="24.27" width="2" height="8.18" fill="none" stroke="#2a2a2a" stroke-width="0.65"/>
<line x1="136.03" y1="28.77" x2="138.03" y2="28.77" stroke="#2a2a2a" stroke-width="0.65" />
<line x1="141.49" y1="12.01" x2="141.49" y2="24.27" stroke="#2a2a2a" stroke-width="0.65" />
<line x1="141.49" y1="33.26" x2="141.49" y2="36.77" stroke="#2a2a2a" stroke-width="0.65" />
<line x1="140.99" y1="12.01" x2="141.99" y2="12.01" stroke="#2a2a2a" stroke-width="0.65" />
<line x1="140.99" y1="36.77" x2="141.99" y2="36.77" stroke="#2a2a2a" stroke-width="0.65" />
<rect x="140.49" y="24.27" width="2" height="8.99" fill="none" stroke="#2a2a2a" stroke-width="0.65"/>
<line x1="140.49" y1="29.22" x2="142.49" y2="29.22" stroke="#2a2a2a" stroke-width="0.65" />
<line x1="145.95" y1="14.58" x2="145.95" y2="25.79" stroke="#2a2a2a" stroke-width="0.65" />
<line x1="145.95" y1="33.03" x2="145.95" y2="37.47" stroke="#2a2a2a" stroke-width="0.65" />
<line x1="145.45" y1="14.58" x2="146.45" y2="14.58" stroke="#2a2a2a" stroke-width="0.65" />
<line x1="145.45" y1="37.47" x2="146.45" y2="37.47" stroke="#2a2a2a" stroke-width="0.65" />
<rect x="144.95" y="25.79" width="2" height="7.24" fill="none" stroke="#2a2a2a" stroke-width="0.65"/>
<line x1="144.95" y1="29.77" x2="146.95" y2="29.77" stroke="#2a2a2a" stroke-width="0.65" />
<line x1="150.41" y1="14.93" x2="150.41" y2="26.26" stroke="#2a2a2a" stroke-width="0.65" />
<line x1="150.41" y1="34.2" x2="150.41" y2="38.64" stroke="#2a2a2a" stroke-width="0.65" />
<line x1="149.91" y1="14.93" x2="150.91" y2="14.93" stroke="#2a2a2a" stroke-width="0.65" />
<line x1="149.91" y1="38.64" x2="150.91" y2="38.64" stroke="#2a2a2a" stroke-width="0.65" />
<rect x="149.41" y="26.26" width="2" height="7.94" fill="none" stroke="#2a2a2a" stroke-width="0.65"/>
<line x1="149.41" y1="30.62" x2="151.41" y2="30.62" stroke="#2a2a2a" stroke-width="0.65" />
<line x1="154.87" y1="12.59" x2="154.87" y2="25.44" stroke="#2a2a2a" stroke-width="0.65" />
<line x1="154.87" y1="34.2" x2="154.87" y2="39.45" stroke="#2a2a2a" stroke-width="0.65" />
<line x1="154.37" y1="12.59" x2="155.37" y2="12.59" stroke="#2a2a2a" stroke-width="0.65" />
<line x1="154.37" y1="39.45" x2="155.37" y2="39.45" stroke="#2a2a2a" stroke-width="0.65" />
<rect x="153.87" y="25.44" width="2" height="8.76" fill="none" stroke="#2a2a2a" stroke-width="0.65"/>
<line x1="153.87" y1="30.26" x2="155.87" y2="30.26" stroke="#2a2a2a" stroke-width="0.65" />
<line x1="159.33" y1="12.94" x2="159.33" y2="26.26" stroke="#2a2a2a" stroke-width="0.65" />
<line x1="159.33" y1="35.13" x2="159.33" y2="39.8" stroke="#2a2a2a" stroke-width="0.65" />
<line x1="158.83" y1="12.94" x2="159.83" y2="12.94" stroke="#2a2a2a" stroke-width="0.65" />
<line x1="158.83" y1="39.8" x2="159.83" y2="39.8" stroke="#2a2a2a" stroke-width="0.65" />
<rect x="158.33" y="26.26" width="2" height="8.88" fill="none" stroke="#2a2a2a" stroke-width="0.65"/>
<line x1="158.33" y1="31.14" x2="160.33" y2="31.14" stroke="#2a2a2a" stroke-width="0.65" />
<line x1="163.79" y1="15.28" x2="163.79" y2="28.12" stroke="#2a2a2a" stroke-width="0.65" />
<line x1="163.79" y1="36.3" x2="163.79" y2="41.2" stroke="#2a2a2a" stroke-width="0.65" />
<line x1="163.29" y1="15.28" x2="164.29" y2="15.28" stroke="#2a2a2a" stroke-width="0.65" />
<line x1="163.29" y1="41.2" x2="164.29" y2="41.2" stroke="#2a2a2a" stroke-width="0.65" />
<rect x="162.79" y="28.12" width="2" height="8.18" fill="none" stroke="#2a2a2a" stroke-width="0.65"/>
<line x1="162.79" y1="32.62" x2="164.79" y2="32.62" stroke="#2a2a2a" stroke-width="0.65" />
<line x1="168.25" y1="16.09" x2="168.25" y2="28.36" stroke="#2a2a2a" stroke-width="0.65" />
<line x1="168.25" y1="36.77" x2="168.25" y2="41.44" stroke="#2a2a2a" stroke-width="0.65" />
<line x1="167.75" y1="16.09" x2="168.75" y2="16.09" stroke="#2a2a2a" stroke-width="0.65" />
<line x1="167.75" y1="41.44" x2="168.75" y2="41.44" stroke="#2a2a2a" stroke-width="0.65" />
<rect x="167.25" y="28.36" width="2" height="8.41" fill="none" stroke="#2a2a2a" stroke-width="0.65"/>
<line x1="167.25" y1="32.98" x2="169.25" y2="32.98" stroke="#2a2a2a" stroke-width="0.65" />
<line x1="172.71" y1="17.26" x2="172.71" y2="28.94" stroke="#2a2a2a" stroke-width="0.65" />
<line x1="172.71" y1="37.47" x2="172.71" y2="42.14" stroke="#2a2a2a" stroke-width="0.65" />
<line x1="172.21" y1="17.26" x2="173.21" y2="17.26" stroke="#2a2a2a" stroke-width="0.65" />
<line x1="172.21" y1="42.14" x2="173.21" y2="42.14" stroke="#2a2a2a" stroke-width="0.65" />
<rect x="171.71" y="28.94" width="2" height="8.53" fill="none" stroke="#2a2a2a" stroke-width="0.65"/>
<line x1="171.71" y1="33.63" x2="173.71" y2="33.63" stroke="#2a2a2a" stroke-width="0.65" />
<line x1="177.17" y1="17.26" x2="177.17" y2="29.53" stroke="#2a2a2a" stroke-width="0.65" />
<line x1="177.17" y1="38.28" x2="177.17" y2="42.61" stroke="#2a2a2a" stroke-width="0.65" />
<line x1="176.67" y1="17.26" x2="177.67" y2="17.26" stroke="#2a2a2a" stroke-width="0.65" />
<line x1="176.67" y1="42.61" x2="177.67" y2="42.61" stroke="#2a2a2a" stroke-width="0.65" />
<rect x="176.17" y="29.53" width="2" height="8.76" fill="none" stroke="#2a2a2a" stroke-width="0.65"/>
<line x1="176.17" y1="34.34" x2="178.17" y2="34.34" stroke="#2a2a2a" stroke-width="0.65" />
<line x1="181.63" y1="14.34" x2="181.63" y2="28.36" stroke="#2a2a2a" stroke-width="0.65" />
<line x1="181.63" y1="38.28" x2="181.63" y2="43.54" stroke="#2a2a2a" stroke-width="0.65" />
<line x1="181.13" y1="14.34" x2="182.13" y2="14.34" stroke="#2a2a2a" stroke-width="0.65" />
<line x1="181.13" y1="43.54" x2="182.13" y2="43.54" stroke="#2a2a2a" stroke-width="0.65" />
<rect x="180.63" y="28.36" width="2" height="9.93" fill="none" stroke="#2a2a2a" stroke-width="0.65"/>
<line x1="180.63" y1="33.82" x2="182.63" y2="33.82" stroke="#2a2a2a" stroke-width="0.65" />
<line x1="186.09" y1="15.28" x2="186.09" y2="28.94" stroke="#2a2a2a" stroke-width="0.65" />
<line x1="186.09" y1="39.1" x2="186.09" y2="44.47" stroke="#2a2a2a" stroke-width="0.65" />
<line x1="185.59" y1="15.28" x2="186.59" y2="15.28" stroke="#2a2a2a" stroke-width="0.65" />
<line x1="185.59" y1="44.47" x2="186.59" y2="44.47" stroke="#2a2a2a" stroke-width="0.65" />
<rect x="185.09" y="28.94" width="2" height="10.16" fill="none" stroke="#2a2a2a" stroke-width="0.65"/>
<line x1="185.09" y1="34.53" x2="187.09" y2="34.53" stroke="#2a2a2a" stroke-width="0.65" />
<line x1="190.55" y1="16.09" x2="190.55" y2="30.11" stroke="#2a2a2a" stroke-width="0.65" />
<line x1="190.55" y1="40.04" x2="190.55" y2="45.29" stroke="#2a2a2a" stroke-width="0.65" />
<line x1="190.05" y1="16.09" x2="191.05" y2="16.09" stroke="#2a2a2a" stroke-width="0.65" />
<line x1="190.05" y1="45.29" x2="191.05" y2="45.29" stroke="#2a2a2a" stroke-width="0.65" />
<rect x="189.55" y="30.11" width="2" height="9.93" fill="none" stroke="#2a2a2a" stroke-width="0.65"/>
<line x1="189.55" y1="35.57" x2="191.55" y2="35.57" stroke="#2a2a2a" stroke-width="0.65" />
<line x1="195.01" y1="29.53" x2="195.01" y2="32.45" stroke="#2a2a2a" stroke-width="0.65" />
<line x1="195.01" y1="40.04" x2="195.01" y2="45.29" stroke="#2a2a2a" stroke-width="0.65" />
<line x1="194.51" y1="29.53" x2="195.51" y2="29.53" stroke="#2a2a2a" stroke-width="0.65" />
<line x1="194.51" y1="45.29" x2="195.51" y2="45.29" stroke="#2a2a2a" stroke-width="0.65" />
<rect x="194.01" y="32.45" width="2" height="7.59" fill="none" stroke="#2a2a2a" stroke-width="0.65"/>
<line x1="194.01" y1="36.62" x2="196.01" y2="36.62" stroke="#2a2a2a" stroke-width="0.65" />
<line x1="199.47" y1="29.53" x2="199.47" y2="33.96" stroke="#2a2a2a" stroke-width="0.65" />
<line x1="199.47" y1="40.04" x2="199.47" y2="45.64" stroke="#2a2a2a" stroke-width="0.65" />
<line x1="198.97" y1="29.53" x2="199.97" y2="29.53" stroke="#2a2a2a" stroke-width="0.65" />
<line x1="198.97" y1="45.64" x2="199.97" y2="45.64" stroke="#2a2a2a" stroke-width="0.65" />
<rect x="198.47" y="33.96" width="2" height="6.07" fill="none" stroke="#2a2a2a" stroke-width="0.65"/>
<line x1="198.47" y1="37.3" x2="200.47" y2="37.3" stroke="#2a2a2a" stroke-width="0.65" />
<line x1="203.93" y1="29.76" x2="203.93" y2="33.96" stroke="#2a2a2a" stroke-width="0.65" />
<line x1="203.93" y1="41.2" x2="203.93" y2="45.29" stroke="#2a2a2a" stroke-width="0.65" />
<line x1="203.43" y1="29.76" x2="204.43" y2="29.76" stroke="#2a2a2a" stroke-width="0.65" />
<line x1="203.43" y1="45.29" x2="204.43" y2="45.29" stroke="#2a2a2a" stroke-width="0.65" />
<rect x="202.93" y="33.96" width="2" height="7.24" fill="none" stroke="#2a2a2a" stroke-width="0.65"/>
<line x1="202.93" y1="37.95" x2="204.93" y2="37.95" stroke="#2a2a2a" stroke-width="0.65" />
<line x1="208.39" y1="30.11" x2="208.39" y2="33.26" stroke="#2a2a2a" stroke-width="0.65" />
<line x1="208.39" y1="40.62" x2="208.39" y2="44.71" stroke="#2a2a2a" stroke-width="0.65" />
<line x1="207.89" y1="30.11" x2="208.89" y2="30.11" stroke="#2a2a2a" stroke-width="0.65" />
<line x1="207.89" y1="44.71" x2="208.89" y2="44.71" stroke="#2a2a2a" stroke-width="0.65" />
<rect x="207.39" y="33.26" width="2" height="7.36" fill="none" stroke="#2a2a2a" stroke-width="0.65"/>
<line x1="207.39" y1="37.31" x2="209.39" y2="37.31" stroke="#2a2a2a" stroke-width="0.65" />
<line x1="212.85" y1="30.93" x2="212.85" y2="34.2" stroke="#2a2a2a" stroke-width="0.65" />
<line x1="212.85" y1="40.97" x2="212.85" y2="45.29" stroke="#2a2a2a" stroke-width="0.65" />
<line x1="212.35" y1="30.93" x2="213.35" y2="30.93" stroke="#2a2a2a" stroke-width="0.65" />
<line x1="212.35" y1="45.29" x2="213.35" y2="45.29" stroke="#2a2a2a" stroke-width="0.65" />
<rect x="211.85" y="34.2" width="2" height="6.77" fill="none" stroke="#2a2a2a" stroke-width="0.65"/>
<line x1="211.85" y1="37.92" x2="213.85" y2="37.92" stroke="#2a2a2a" stroke-width="0.65" />
<line x1="217.31" y1="31.63" x2="217.31" y2="34.78" stroke="#2a2a2a" stroke-width="0.65" />
<line x1="217.31" y1="42.14" x2="217.31" y2="46.46" stroke="#2a2a2a" stroke-width="0.65" />
<line x1="216.81" y1="31.63" x2="217.81" y2="31.63" stroke="#2a2a2a" stroke-width="0.65" />
<line x1="216.81" y1="46.46" x2="217.81" y2="46.46" stroke="#2a2a2a" stroke-width="0.65" />
<rect x="216.31" y="34.78" width="2" height="7.36" fill="none" stroke="#2a2a2a" stroke-width="0.65"/>
<line x1="216.31" y1="38.83" x2="218.31" y2="38.83" stroke="#2a2a2a" stroke-width="0.65" />
<line x1="221.77" y1="20.18" x2="221.77" y2="33.26" stroke="#2a2a2a" stroke-width="0.65" />
<line x1="221.77" y1="42.37" x2="221.77" y2="46.46" stroke="#2a2a2a" stroke-width="0.65" />
<line x1="221.27" y1="20.18" x2="222.27" y2="20.18" stroke="#2a2a2a" stroke-width="0.65" />
<line x1="221.27" y1="46.46" x2="222.27" y2="46.46" stroke="#2a2a2a" stroke-width="0.65" />
<rect x="220.77" y="33.26" width="2" height="9.11" fill="none" stroke="#2a2a2a" stroke-width="0.65"/>
<line x1="220.77" y1="38.27" x2="222.77" y2="38.27" stroke="#2a2a2a" stroke-width="0.65" />
<line x1="226.23" y1="19.6" x2="226.23" y2="33.26" stroke="#2a2a2a" stroke-width="0.65" />
<line x1="226.23" y1="42.96" x2="226.23" y2="46.46" stroke="#2a2a2a" stroke-width="0.65" />
<line x1="225.73" y1="19.6" x2="226.73" y2="19.6" stroke="#2a2a2a" stroke-width="0.65" />
<line x1="225.73" y1="46.46" x2="226.73" y2="46.46" stroke="#2a2a2a" stroke-width="0.65" />
<rect x="225.23" y="33.26" width="2" height="9.69" fill="none" stroke="#2a2a2a" stroke-width="0.65"/>
<line x1="225.23" y1="38.59" x2="227.23" y2="38.59" stroke="#2a2a2a" stroke-width="0.65" />
<line x1="230.69" y1="21.12" x2="230.69" y2="34.2" stroke="#2a2a2a" stroke-width="0.65" />
<line x1="230.69" y1="44.12" x2="230.69" y2="47.28" stroke="#2a2a2a" stroke-width="0.65" />
<line x1="230.19" y1="21.12" x2="231.19" y2="21.12" stroke="#2a2a2a" stroke-width="0.65" />
<line x1="230.19" y1="47.28" x2="231.19" y2="47.28" stroke="#2a2a2a" stroke-width="0.65" />
<rect x="229.69" y="34.2" width="2" height="9.93" fill="none" stroke="#2a2a2a" stroke-width="0.65"/>
<line x1="229.69" y1="39.66" x2="231.69" y2="39.66" stroke="#2a2a2a" stroke-width="0.65" />
<line x1="235.15" y1="22.28" x2="235.15" y2="35.13" stroke="#2a2a2a" stroke-width="0.65" />
<line x1="235.15" y1="45.29" x2="235.15" y2="49.38" stroke="#2a2a2a" stroke-width="0.65" />
<line x1="234.65" y1="22.28" x2="235.65" y2="22.28" stroke="#2a2a2a" stroke-width="0.65" />
<line x1="234.65" y1="49.38" x2="235.65" y2="49.38" stroke="#2a2a2a" stroke-width="0.65" />
<rect x="234.15" y="35.13" width="2" height="10.16" fill="none" stroke="#2a2a2a" stroke-width="0.65"/>
<line x1="234.15" y1="40.72" x2="236.15" y2="40.72" stroke="#2a2a2a" stroke-width="0.65" />
<line x1="239.61" y1="20.18" x2="239.61" y2="35.13" stroke="#2a2a2a" stroke-width="0.65" />
<line x1="239.61" y1="45.29" x2="239.61" y2="49.38" stroke="#2a2a2a" stroke-width="0.65" />
<line x1="239.11" y1="20.18" x2="240.11" y2="20.18" stroke="#2a2a2a" stroke-width="0.65" />
<line x1="239.11" y1="49.38" x2="240.11" y2="49.38" stroke="#2a2a2a" stroke-width="0.65" />
<rect x="238.61" y="35.13" width="2" height="10.16" fill="none" stroke="#2a2a2a" stroke-width="0.65"/>
<line x1="238.61" y1="40.72" x2="240.61" y2="40.72" stroke="#2a2a2a" stroke-width="0.65" />
<line x1="244.07" y1="21.1" x2="244.07" y2="36.2" stroke="#2a2a2a" stroke-width="0.65" />
<line x1="244.07" y1="46.6" x2="244.07" y2="59.4" stroke="#2a2a2a" stroke-width="0.65" />
<line x1="243.57" y1="21.1" x2="244.57" y2="21.1" stroke="#2a2a2a" stroke-width="0.65" />
<line x1="243.57" y1="59.4" x2="244.57" y2="59.4" stroke="#2a2a2a" stroke-width="0.65" />
<rect x="243.07" y="36.2" width="2" height="10.4" fill="none" stroke="#2a2a2a" stroke-width="0.65"/>
<line x1="243.07" y1="41.92" x2="245.07" y2="41.92" stroke="#2a2a2a" stroke-width="0.65" />
<line x1="248.53" y1="23.5" x2="248.53" y2="37.3" stroke="#2a2a2a" stroke-width="0.65" />
<line x1="248.53" y1="47.8" x2="248.53" y2="54.4" stroke="#2a2a2a" stroke-width="0.65" />
<line x1="248.03" y1="23.5" x2="249.03" y2="23.5" stroke="#2a2a2a" stroke-width="0.65" />
<line x1="248.03" y1="54.4" x2="249.03" y2="54.4" stroke="#2a2a2a" stroke-width="0.65" />
<rect x="247.53" y="37.3" width="2" height="10.5" fill="none" stroke="#2a2a2a" stroke-width="0.65"/>
<line x1="247.53" y1="43.07" x2="249.53" y2="43.07" stroke="#2a2a2a" stroke-width="0.65" />
<line x1="252.99" y1="35.28" x2="252.99" y2="39.6" stroke="#2a2a2a" stroke-width="0.65" />
<line x1="252.99" y1="48.36" x2="252.99" y2="52.8" stroke="#2a2a2a" stroke-width="0.65" />
<line x1="252.49" y1="35.28" x2="253.49" y2="35.28" stroke="#2a2a2a" stroke-width="0.65" />
<line x1="252.49" y1="52.8" x2="253.49" y2="52.8" stroke="#2a2a2a" stroke-width="0.65" />
<rect x="251.99" y="39.6" width="2" height="8.76" fill="none" stroke="#2a2a2a" stroke-width="0.65"/>
<line x1="251.99" y1="44.42" x2="253.99" y2="44.42" stroke="#2a2a2a" stroke-width="0.65" />
<line x1="257.45" y1="29.67" x2="257.45" y2="42.28" stroke="#2a2a2a" stroke-width="0.65" />
<line x1="257.45" y1="52.45" x2="257.45" y2="58.87" stroke="#2a2a2a" stroke-width="0.65" />
<line x1="256.95" y1="29.67" x2="257.95" y2="29.67" stroke="#2a2a2a" stroke-width="0.65" />
<line x1="256.95" y1="58.87" x2="257.95" y2="58.87" stroke="#2a2a2a" stroke-width="0.65" />
<rect x="256.45" y="42.28" width="2" height="10.16" fill="none" stroke="#2a2a2a" stroke-width="0.65"/>
<line x1="256.45" y1="47.87" x2="258.45" y2="47.87" stroke="#2a2a2a" stroke-width="0.65" />
<line x1="261.91" y1="27.1" x2="261.91" y2="40.77" stroke="#2a2a2a" stroke-width="0.65" />
<line x1="261.91" y1="51.86" x2="261.91" y2="55.6" stroke="#2a2a2a" stroke-width="0.65" />
<line x1="261.41" y1="27.1" x2="262.41" y2="27.1" stroke="#2a2a2a" stroke-width="0.65" />
<line x1="261.41" y1="55.6" x2="262.41" y2="55.6" stroke="#2a2a2a" stroke-width="0.65" />
<rect x="260.91" y="40.77" width="2" height="11.09" fill="none" stroke="#2a2a2a" stroke-width="0.65"/>
<line x1="260.91" y1="46.87" x2="262.91" y2="46.87" stroke="#2a2a2a" stroke-width="0.65" />
<line x1="266.37" y1="27.34" x2="266.37" y2="40.77" stroke="#2a2a2a" stroke-width="0.65" />
<line x1="266.37" y1="51.63" x2="266.37" y2="55.13" stroke="#2a2a2a" stroke-width="0.65" />
<line x1="265.87" y1="27.34" x2="266.87" y2="27.34" stroke="#2a2a2a" stroke-width="0.65" />
<line x1="265.87" y1="55.13" x2="266.87" y2="55.13" stroke="#2a2a2a" stroke-width="0.65" />
<rect x="265.37" y="40.77" width="2" height="10.86" fill="none" stroke="#2a2a2a" stroke-width="0.65"/>
<line x1="265.37" y1="46.74" x2="267.37" y2="46.74" stroke="#2a2a2a" stroke-width="0.65" />
<line x1="270.83" y1="36.68" x2="270.83" y2="41.35" stroke="#2a2a2a" stroke-width="0.65" />
<line x1="270.83" y1="51.28" x2="270.83" y2="55.6" stroke="#2a2a2a" stroke-width="0.65" />
<line x1="270.33" y1="36.68" x2="271.33" y2="36.68" stroke="#2a2a2a" stroke-width="0.65" />
<line x1="270.33" y1="55.6" x2="271.33" y2="55.6" stroke="#2a2a2a" stroke-width="0.65" />
<rect x="269.83" y="41.35" width="2" height="9.93" fill="none" stroke="#2a2a2a" stroke-width="0.65"/>
<line x1="269.83" y1="46.81" x2="271.83" y2="46.81" stroke="#2a2a2a" stroke-width="0.65" />
<line x1="275.29" y1="27.34" x2="275.29" y2="41.35" stroke="#2a2a2a" stroke-width="0.65" />
<line x1="275.29" y1="51.28" x2="275.29" y2="55.95" stroke="#2a2a2a" stroke-width="0.65" />
<line x1="274.79" y1="27.34" x2="275.79" y2="27.34" stroke="#2a2a2a" stroke-width="0.65" />
<line x1="274.79" y1="55.95" x2="275.79" y2="55.95" stroke="#2a2a2a" stroke-width="0.65" />
<rect x="274.29" y="41.35" width="2" height="9.93" fill="none" stroke="#2a2a2a" stroke-width="0.65"/>
<line x1="274.29" y1="46.81" x2="276.29" y2="46.81" stroke="#2a2a2a" stroke-width="0.65" />
<line x1="279.75" y1="38.43" x2="279.75" y2="41.35" stroke="#2a2a2a" stroke-width="0.65" />
<line x1="279.75" y1="51.86" x2="279.75" y2="56.53" stroke="#2a2a2a" stroke-width="0.65" />
<line x1="279.25" y1="38.43" x2="280.25" y2="38.43" stroke="#2a2a2a" stroke-width="0.65" />
<line x1="279.25" y1="56.53" x2="280.25" y2="56.53" stroke="#2a2a2a" stroke-width="0.65" />
<rect x="278.75" y="41.35" width="2" height="10.51" fill="none" stroke="#2a2a2a" stroke-width="0.65"/>
<line x1="278.75" y1="47.13" x2="280.75" y2="47.13" stroke="#2a2a2a" stroke-width="0.65" />
<line x1="284.21" y1="39.25" x2="284.21" y2="44.27" stroke="#2a2a2a" stroke-width="0.65" />
<line x1="284.21" y1="54.2" x2="284.21" y2="62.37" stroke="#2a2a2a" stroke-width="0.65" />
<line x1="283.71" y1="39.25" x2="284.71" y2="39.25" stroke="#2a2a2a" stroke-width="0.65" />
<line x1="283.71" y1="62.37" x2="284.71" y2="62.37" stroke="#2a2a2a" stroke-width="0.65" />
<rect x="283.21" y="44.27" width="2" height="9.93" fill="none" stroke="#2a2a2a" stroke-width="0.65"/>
<line x1="283.21" y1="49.73" x2="285.21" y2="49.73" stroke="#2a2a2a" stroke-width="0.65" />
<line x1="288.67" y1="40.18" x2="288.67" y2="43.1" stroke="#2a2a2a" stroke-width="0.65" />
<line x1="288.67" y1="54.78" x2="288.67" y2="65.29" stroke="#2a2a2a" stroke-width="0.65" />
<line x1="288.17" y1="40.18" x2="289.17" y2="40.18" stroke="#2a2a2a" stroke-width="0.65" />
<line x1="288.17" y1="65.29" x2="289.17" y2="65.29" stroke="#2a2a2a" stroke-width="0.65" />
<rect x="287.67" y="43.1" width="2" height="11.68" fill="none" stroke="#2a2a2a" stroke-width="0.65"/>
<line x1="287.67" y1="49.53" x2="289.67" y2="49.53" stroke="#2a2a2a" stroke-width="0.65" />
<line x1="293.13" y1="39.25" x2="293.13" y2="44.27" stroke="#2a2a2a" stroke-width="0.65" />
<line x1="293.13" y1="55.36" x2="293.13" y2="67.63" stroke="#2a2a2a" stroke-width="0.65" />
<line x1="292.63" y1="39.25" x2="293.63" y2="39.25" stroke="#2a2a2a" stroke-width="0.65" />
<line x1="292.63" y1="67.63" x2="293.63" y2="67.63" stroke="#2a2a2a" stroke-width="0.65" />
<rect x="292.13" y="44.27" width="2" height="11.09" fill="none" stroke="#2a2a2a" stroke-width="0.65"/>
<line x1="292.13" y1="50.37" x2="294.13" y2="50.37" stroke="#2a2a2a" stroke-width="0.65" />
<line x1="297.59" y1="40.18" x2="297.59" y2="45.44" stroke="#2a2a2a" stroke-width="0.65" />
<line x1="297.59" y1="55.95" x2="297.59" y2="70.31" stroke="#2a2a2a" stroke-width="0.65" />
<line x1="297.09" y1="40.18" x2="298.09" y2="40.18" stroke="#2a2a2a" stroke-width="0.65" />
<line x1="297.09" y1="70.31" x2="298.09" y2="70.31" stroke="#2a2a2a" stroke-width="0.65" />
<rect x="296.59" y="45.44" width="2" height="10.51" fill="none" stroke="#2a2a2a" stroke-width="0.65"/>
<line x1="296.59" y1="51.22" x2="298.59" y2="51.22" stroke="#2a2a2a" stroke-width="0.65" />
<line x1="302.05" y1="41.35" x2="302.05" y2="46.61" stroke="#2a2a2a" stroke-width="0.65" />
<line x1="302.05" y1="57.12" x2="302.05" y2="72.3" stroke="#2a2a2a" stroke-width="0.65" />
<line x1="301.55" y1="41.35" x2="302.55" y2="41.35" stroke="#2a2a2a" stroke-width="0.65" />
<line x1="301.55" y1="72.3" x2="302.55" y2="72.3" stroke="#2a2a2a" stroke-width="0.65" />
<rect x="301.05" y="46.61" width="2" height="10.51" fill="none" stroke="#2a2a2a" stroke-width="0.65"/>
<line x1="301.05" y1="52.39" x2="303.05" y2="52.39" stroke="#2a2a2a" stroke-width="0.65" />
<line x1="306.51" y1="42.28" x2="306.51" y2="47.19" stroke="#2a2a2a" stroke-width="0.65" />
<line x1="306.51" y1="58.28" x2="306.51" y2="72.3" stroke="#2a2a2a" stroke-width="0.65" />
<line x1="306.01" y1="42.28" x2="307.01" y2="42.28" stroke="#2a2a2a" stroke-width="0.65" />
<line x1="306.01" y1="72.3" x2="307.01" y2="72.3" stroke="#2a2a2a" stroke-width="0.65" />
<rect x="305.51" y="47.19" width="2" height="11.09" fill="none" stroke="#2a2a2a" stroke-width="0.65"/>
<line x1="305.51" y1="53.29" x2="307.51" y2="53.29" stroke="#2a2a2a" stroke-width="0.65" />
<line x1="310.97" y1="43.1" x2="310.97" y2="48.94" stroke="#2a2a2a" stroke-width="0.65" />
<line x1="310.97" y1="59.45" x2="310.97" y2="72.3" stroke="#2a2a2a" stroke-width="0.65" />
<line x1="310.47" y1="43.1" x2="311.47" y2="43.1" stroke="#2a2a2a" stroke-width="0.65" />
<line x1="310.47" y1="72.3" x2="311.47" y2="72.3" stroke="#2a2a2a" stroke-width="0.65" />
<rect x="309.97" y="48.94" width="2" height="10.51" fill="none" stroke="#2a2a2a" stroke-width="0.65"/>
<line x1="309.97" y1="54.72" x2="311.97" y2="54.72" stroke="#2a2a2a" stroke-width="0.65" />
<line x1="315.43" y1="45.44" x2="315.43" y2="50.11" stroke="#2a2a2a" stroke-width="0.65" />
<line x1="315.43" y1="60.04" x2="315.43" y2="72.3" stroke="#2a2a2a" stroke-width="0.65" />
<line x1="314.93" y1="45.44" x2="315.93" y2="45.44" stroke="#2a2a2a" stroke-width="0.65" />
<line x1="314.93" y1="72.3" x2="315.93" y2="72.3" stroke="#2a2a2a" stroke-width="0.65" />
<rect x="314.43" y="50.11" width="2" height="9.93" fill="none" stroke="#2a2a2a" stroke-width="0.65"/>
<line x1="314.43" y1="55.57" x2="316.43" y2="55.57" stroke="#2a2a2a" stroke-width="0.65" />
<line x1="319.89" y1="46.02" x2="319.89" y2="51.28" stroke="#2a2a2a" stroke-width="0.65" />
<line x1="319.89" y1="61.2" x2="319.89" y2="74.64" stroke="#2a2a2a" stroke-width="0.65" />
<line x1="319.39" y1="46.02" x2="320.39" y2="46.02" stroke="#2a2a2a" stroke-width="0.65" />
<line x1="319.39" y1="74.64" x2="320.39" y2="74.64" stroke="#2a2a2a" stroke-width="0.65" />
<rect x="318.89" y="51.28" width="2" height="9.93" fill="none" stroke="#2a2a2a" stroke-width="0.65"/>
<line x1="318.89" y1="56.74" x2="320.89" y2="56.74" stroke="#2a2a2a" stroke-width="0.65" />
<line x1="324.35" y1="46.61" x2="324.35" y2="52.09" stroke="#2a2a2a" stroke-width="0.65" />
<line x1="324.35" y1="63.31" x2="324.35" y2="78.14" stroke="#2a2a2a" stroke-width="0.65" />
<line x1="323.85" y1="46.61" x2="324.85" y2="46.61" stroke="#2a2a2a" stroke-width="0.65" />
<line x1="323.85" y1="78.14" x2="324.85" y2="78.14" stroke="#2a2a2a" stroke-width="0.65" />
<rect x="323.35" y="52.09" width="2" height="11.21" fill="none" stroke="#2a2a2a" stroke-width="0.65"/>
<line x1="323.35" y1="58.26" x2="325.35" y2="58.26" stroke="#2a2a2a" stroke-width="0.65" />
<line x1="328.81" y1="47.42" x2="328.81" y2="53.03" stroke="#2a2a2a" stroke-width="0.65" />
<line x1="328.81" y1="64.12" x2="328.81" y2="79.31" stroke="#2a2a2a" stroke-width="0.65" />
<line x1="328.31" y1="47.42" x2="329.31" y2="47.42" stroke="#2a2a2a" stroke-width="0.65" />
<line x1="328.31" y1="79.31" x2="329.31" y2="79.31" stroke="#2a2a2a" stroke-width="0.65" />
<rect x="327.81" y="53.03" width="2" height="11.09" fill="none" stroke="#2a2a2a" stroke-width="0.65"/>
<line x1="327.81" y1="59.13" x2="329.81" y2="59.13" stroke="#2a2a2a" stroke-width="0.65" />
<line x1="333.27" y1="48.36" x2="333.27" y2="53.03" stroke="#2a2a2a" stroke-width="0.65" />
<line x1="333.27" y1="64.71" x2="333.27" y2="78.14" stroke="#2a2a2a" stroke-width="0.65" />
<line x1="332.77" y1="48.36" x2="333.77" y2="48.36" stroke="#2a2a2a" stroke-width="0.65" />
<line x1="332.77" y1="78.14" x2="333.77" y2="78.14" stroke="#2a2a2a" stroke-width="0.65" />
<rect x="332.27" y="53.03" width="2" height="11.68" fill="none" stroke="#2a2a2a" stroke-width="0.65"/>
<line x1="332.27" y1="59.45" x2="334.27" y2="59.45" stroke="#2a2a2a" stroke-width="0.65" />
<line x1="337.73" y1="49.53" x2="337.73" y2="54.2" stroke="#2a2a2a" stroke-width="0.65" />
<line x1="337.73" y1="65.88" x2="337.73" y2="80.47" stroke="#2a2a2a" stroke-width="0.65" />
<line x1="337.23" y1="49.53" x2="338.23" y2="49.53" stroke="#2a2a2a" stroke-width="0.65" />
<line x1="337.23" y1="80.47" x2="338.23" y2="80.47" stroke="#2a2a2a" stroke-width="0.65" />
<rect x="336.73" y="54.2" width="2" height="11.68" fill="none" stroke="#2a2a2a" stroke-width="0.65"/>
<line x1="336.73" y1="60.62" x2="338.73" y2="60.62" stroke="#2a2a2a" stroke-width="0.65" />
<line x1="342.19" y1="50.46" x2="342.19" y2="55.36" stroke="#2a2a2a" stroke-width="0.65" />
<line x1="342.19" y1="66.46" x2="342.19" y2="81.64" stroke="#2a2a2a" stroke-width="0.65" />
<line x1="341.69" y1="50.46" x2="342.69" y2="50.46" stroke="#2a2a2a" stroke-width="0.65" />
<line x1="341.69" y1="81.64" x2="342.69" y2="81.64" stroke="#2a2a2a" stroke-width="0.65" />
<rect x="341.19" y="55.36" width="2" height="11.09" fill="none" stroke="#2a2a2a" stroke-width="0.65"/>
<line x1="341.19" y1="61.47" x2="343.19" y2="61.47" stroke="#2a2a2a" stroke-width="0.65" />
<line x1="346.65" y1="50.46" x2="346.65" y2="56.3" stroke="#2a2a2a" stroke-width="0.65" />
<line x1="346.65" y1="67.63" x2="346.65" y2="83.39" stroke="#2a2a2a" stroke-width="0.65" />
<line x1="346.15" y1="50.46" x2="347.15" y2="50.46" stroke="#2a2a2a" stroke-width="0.65" />
<line x1="346.15" y1="83.39" x2="347.15" y2="83.39" stroke="#2a2a2a" stroke-width="0.65" />
<rect x="345.65" y="56.3" width="2" height="11.33" fill="none" stroke="#2a2a2a" stroke-width="0.65"/>
<line x1="345.65" y1="62.53" x2="347.65" y2="62.53" stroke="#2a2a2a" stroke-width="0.65" />
<line x1="351.11" y1="51.63" x2="351.11" y2="57.93" stroke="#2a2a2a" stroke-width="0.65" />
<line x1="351.11" y1="69.15" x2="351.11" y2="84.1" stroke="#2a2a2a" stroke-width="0.65" />
<line x1="350.61" y1="51.63" x2="351.61" y2="51.63" stroke="#2a2a2a" stroke-width="0.65" />
<line x1="350.61" y1="84.1" x2="351.61" y2="84.1" stroke="#2a2a2a" stroke-width="0.65" />
<rect x="350.11" y="57.93" width="2" height="11.21" fill="none" stroke="#2a2a2a" stroke-width="0.65"/>
<line x1="350.11" y1="64.1" x2="352.11" y2="64.1" stroke="#2a2a2a" stroke-width="0.65" />
<line x1="355.57" y1="52.45" x2="355.57" y2="58.87" stroke="#2a2a2a" stroke-width="0.65" />
<line x1="355.57" y1="70.31" x2="355.57" y2="85.6" stroke="#2a2a2a" stroke-width="0.65" />
<line x1="355.07" y1="52.45" x2="356.07" y2="52.45" stroke="#2a2a2a" stroke-width="0.65" />
<line x1="355.07" y1="85.6" x2="356.07" y2="85.6" stroke="#2a2a2a" stroke-width="0.65" />
<rect x="354.57" y="58.87" width="2" height="11.45" fill="none" stroke="#2a2a2a" stroke-width="0.65"/>
<line x1="354.57" y1="65.16" x2="356.57" y2="65.16" stroke="#2a2a2a" stroke-width="0.65" />
<line x1="360.03" y1="53.26" x2="360.03" y2="59.45" stroke="#2a2a2a" stroke-width="0.65" />
<line x1="360.03" y1="71.13" x2="360.03" y2="86.1" stroke="#2a2a2a" stroke-width="0.65" />
<line x1="359.53" y1="53.26" x2="360.53" y2="53.26" stroke="#2a2a2a" stroke-width="0.65" />
<line x1="359.53" y1="86.1" x2="360.53" y2="86.1" stroke="#2a2a2a" stroke-width="0.65" />
<rect x="359.03" y="59.45" width="2" height="11.68" fill="none" stroke="#2a2a2a" stroke-width="0.65"/>
<line x1="359.03" y1="65.88" x2="361.03" y2="65.88" stroke="#2a2a2a" stroke-width="0.65" />
<line x1="364.49" y1="56.3" x2="364.49" y2="60.04" stroke="#2a2a2a" stroke-width="0.65" />
<line x1="364.49" y1="69.15" x2="364.49" y2="75.6" stroke="#2a2a2a" stroke-width="0.65" />
<line x1="363.99" y1="56.3" x2="364.99" y2="56.3" stroke="#2a2a2a" stroke-width="0.65" />
<line x1="363.99" y1="75.6" x2="364.99" y2="75.6" stroke="#2a2a2a" stroke-width="0.65" />
<rect x="363.49" y="60.04" width="2" height="9.11" fill="none" stroke="#2a2a2a" stroke-width="0.65"/>
<line x1="363.49" y1="65.05" x2="365.49" y2="65.05" stroke="#2a2a2a" stroke-width="0.65" />
<line x1="368.5" y1="42.52" x2="368.5" y2="67.4" stroke="#2a2a2a" stroke-width="0.65" />
<line x1="368.5" y1="83.5" x2="368.5" y2="89.4" stroke="#2a2a2a" stroke-width="0.65" />
<line x1="368" y1="42.52" x2="369" y2="42.52" stroke="#2a2a2a" stroke-width="0.65" />
<line x1="368" y1="89.4" x2="369" y2="89.4" stroke="#2a2a2a" stroke-width="0.65" />
<rect x="367.5" y="67.4" width="2" height="16.1" fill="none" stroke="#2a2a2a" stroke-width="0.65"/>
<line x1="367.5" y1="76.25" x2="369.5" y2="76.25" stroke="#2a2a2a" stroke-width="0.65" />
<text x="201.8" y="249.8" font-size="7.1" text-anchor="middle" fill="#111" >Base</text>
<text x="12.4" y="117.12" font-size="7.25" text-anchor="middle" fill="#111" transform="rotate(-90 12.4 117.12)" >Sequence Quality</text>
</g>
<text x="-0.8" y="10.2" font-size="15" text-anchor="start" fill="#000" font-weight="bold" class="pl">a</text>
<g id="panel-b" font-family='"DejaVu Sans", "Liberation Sans", sans-serif'>
<line x1="418.6" y1="205.4" x2="420.7" y2="205.4" stroke="#666" stroke-width="0.55" />
<text x="414.3" y="207.65" font-size="6.2" text-anchor="end" fill="#111" >0</text>
<line x1="418.6" y1="169.22" x2="420.7" y2="169.22" stroke="#666" stroke-width="0.55" />
<text x="414.3" y="171.47" font-size="6.2" text-anchor="end" fill="#111" >20</text>
<line x1="418.6" y1="133.04" x2="420.7" y2="133.04" stroke="#666" stroke-width="0.55" />
<text x="414.3" y="135.29" font-size="6.2" text-anchor="end" fill="#111" >40</text>
<line x1="418.6" y1="96.86" x2="420.7" y2="96.86" stroke="#666" stroke-width="0.55" />
<text x="414.3" y="99.11" font-size="6.2" text-anchor="end" fill="#111" >60</text>
<line x1="418.6" y1="60.68" x2="420.7" y2="60.68" stroke="#666" stroke-width="0.55" />
<text x="414.3" y="62.93" font-size="6.2" text-anchor="end" fill="#111" >80</text>
<line x1="418.6" y1="24.5" x2="420.7" y2="24.5" stroke="#666" stroke-width="0.55" />
<text x="414.3" y="26.75" font-size="6.2" text-anchor="end" fill="#111" >100</text>
<line x1="426.45" y1="205.4" x2="426.45" y2="203.3" stroke="#666" stroke-width="0.55" />
<text x="426.8" y="215" font-size="5.95" text-anchor="middle" fill="#111" >1</text>
<line x1="442.99" y1="205.4" x2="442.99" y2="203.3" stroke="#666" stroke-width="0.55" />
<text x="443.34" y="215" font-size="5.95" text-anchor="middle" fill="#111" >2</text>
<line x1="459.52" y1="205.4" x2="459.52" y2="203.3" stroke="#666" stroke-width="0.55" />
<text x="459.87" y="215" font-size="5.95" text-anchor="middle" fill="#111" >3</text>
<line x1="476.06" y1="205.4" x2="476.06" y2="203.3" stroke="#666" stroke-width="0.55" />
<text x="476.41" y="215" font-size="5.95" text-anchor="middle" fill="#111" >4</text>
<line x1="492.6" y1="205.4" x2="492.6" y2="203.3" stroke="#666" stroke-width="0.55" />
<text x="492.95" y="215" font-size="5.95" text-anchor="middle" fill="#111" >5</text>
<line x1="509.13" y1="205.4" x2="509.13" y2="203.3" stroke="#666" stroke-width="0.55" />
<text x="509.49" y="215" font-size="5.95" text-anchor="middle" fill="#111" >6</text>
<line x1="525.67" y1="205.4" x2="525.67" y2="203.3" stroke="#666" stroke-width="0.55" />
<text x="526.02" y="215" font-size="5.95" text-anchor="middle" fill="#111" >7</text>
<line x1="542.21" y1="205.4" x2="542.21" y2="203.3" stroke="#666" stroke-width="0.55" />
<text x="542.56" y="215" font-size="5.95" text-anchor="middle" fill="#111" >8</text>
<line x1="558.75" y1="205.4" x2="558.75" y2="203.3" stroke="#666" stroke-width="0.55" />
<text x="559.1" y="215" font-size="5.95" text-anchor="middle" fill="#111" >9</text>
<line x1="575.28" y1="205.4" x2="575.28" y2="203.3" stroke="#666" stroke-width="0.55" />
<text x="574.78" y="215" font-size="5.95" text-anchor="middle" fill="#111" >&gt;10</text>
<line x1="591.82" y1="205.4" x2="591.82" y2="203.3" stroke="#666" stroke-width="0.55" />
<text x="590.32" y="215" font-size="5.95" text-anchor="middle" fill="#111" >&gt;50</text>
<line x1="608.36" y1="205.4" x2="608.36" y2="203.3" stroke="#666" stroke-width="0.55" />
<text x="606.96" y="215" font-size="5.95" text-anchor="middle" fill="#111" >&gt;100</text>
<line x1="624.89" y1="205.4" x2="624.89" y2="203.3" stroke="#666" stroke-width="0.55" />
<text x="625.29" y="215" font-size="5.95" text-anchor="middle" fill="#111" >&gt;500</text>
<line x1="641.43" y1="205.4" x2="641.43" y2="203.3" stroke="#666" stroke-width="0.55" />
<text x="641.93" y="215" font-size="5.95" text-anchor="middle" fill="#111" >&gt;1k</text>
<line x1="657.97" y1="205.4" x2="657.97" y2="203.3" stroke="#666" stroke-width="0.55" />
<text x="657.07" y="215" font-size="5.95" text-anchor="middle" fill="#111" >&gt;5k</text>
<line x1="674.5" y1="205.4" x2="674.5" y2="203.3" stroke="#666" stroke-width="0.55" />
<text x="675" y="215" font-size="5.95" text-anchor="middle" fill="#111" >&gt;10k+</text>
<line x1="426.45" y1="148.2" x2="426.45" y2="160.8" stroke="#111" stroke-width="0.7" />
<line x1="426.45" y1="184.4" x2="426.45" y2="193.5" stroke="#111" stroke-width="0.7" />
<line x1="424.15" y1="148.2" x2="428.75" y2="148.2" stroke="#111" stroke-width="0.7" />
<line x1="424.15" y1="193.5" x2="428.75" y2="193.5" stroke="#111" stroke-width="0.7" />
<rect x="422.45" y="160.8" width="8" height="23.6" fill="none" stroke="#111" stroke-width="0.7"/>
<line x1="422.45" y1="167.8" x2="430.45" y2="167.8" stroke="#555" stroke-width="0.7" />
<circle cx="426.45" cy="96.9" r="1.45" fill="#000"/>
<circle cx="426.45" cy="98.4" r="1.45" fill="#000"/>
<circle cx="426.45" cy="99.9" r="1.45" fill="#000"/>
<circle cx="426.45" cy="101.2" r="1.45" fill="#000"/>
<circle cx="426.45" cy="123.6" r="1.45" fill="#000"/>
<line x1="442.99" y1="197.1" x2="442.99" y2="199.2" stroke="#777" stroke-width="0.7" />
<line x1="442.99" y1="202.5" x2="442.99" y2="204.5" stroke="#777" stroke-width="0.7" />
<line x1="440.69" y1="197.1" x2="445.29" y2="197.1" stroke="#777" stroke-width="0.7" />
<line x1="440.69" y1="204.5" x2="445.29" y2="204.5" stroke="#777" stroke-width="0.7" />
<rect x="438.99" y="199.2" width="8" height="3.3" fill="#ddd" stroke="#777" stroke-width="0.7"/>
<line x1="438.99" y1="200.8" x2="446.99" y2="200.8" stroke="#777" stroke-width="0.7" />
<circle cx="442.99" cy="183.6" r="1.45" fill="#000"/>
<circle cx="442.99" cy="185.2" r="1.45" fill="#000"/>
<circle cx="442.99" cy="186.8" r="1.45" fill="#000"/>
<circle cx="442.99" cy="188.4" r="1.45" fill="#000"/>
<line x1="459.52" y1="201.9" x2="459.52" y2="202.7" stroke="#111" stroke-width="0.7" />
<line x1="459.52" y1="204.5" x2="459.52" y2="204.9" stroke="#111" stroke-width="0.7" />
<line x1="457.22" y1="201.9" x2="461.82" y2="201.9" stroke="#111" stroke-width="0.7" />
<line x1="457.22" y1="204.9" x2="461.82" y2="204.9" stroke="#111" stroke-width="0.7" />
<rect x="455.52" y="202.7" width="8" height="1.8" fill="none" stroke="#111" stroke-width="0.7"/>
<line x1="455.52" y1="203.6" x2="463.52" y2="203.6" stroke="#111" stroke-width="0.7" />
<circle cx="459.52" cy="196.3" r="1.45" fill="#000"/>
<circle cx="459.52" cy="197.9" r="1.45" fill="#000"/>
<circle cx="476.06" cy="200.05" r="1.45" fill="#000"/>
<circle cx="476.06" cy="201.35" r="1.45" fill="#000"/>
<circle cx="476.06" cy="202.65" r="1.45" fill="#000"/>
<circle cx="476.06" cy="203.95" r="1.45" fill="#000"/>
<circle cx="476.06" cy="204.3" r="1.45" fill="#000"/>
<rect x="471.66" y="204" width="8.8" height="1.0" fill="#111"/>
<circle cx="492.6" cy="201.25" r="1.45" fill="#000"/>
<circle cx="492.6" cy="202.55" r="1.45" fill="#000"/>
<circle cx="492.6" cy="203.85" r="1.45" fill="#000"/>
<circle cx="492.6" cy="204.3" r="1.45" fill="#000"/>
<rect x="488.4" y="204" width="8.4" height="1.0" fill="#111"/>
<circle cx="509.13" cy="202.05" r="1.45" fill="#000"/>
<circle cx="509.13" cy="203.35" r="1.45" fill="#000"/>
<circle cx="509.13" cy="204.3" r="1.45" fill="#000"/>
<rect x="505.38" y="204.4" width="7.5" height="1.0" fill="#111"/>
<circle cx="525.67" cy="202.75" r="1.45" fill="#000"/>
<circle cx="525.67" cy="204.05" r="1.45" fill="#000"/>
<circle cx="525.67" cy="204.3" r="1.45" fill="#000"/>
<rect x="522.42" y="204.4" width="6.5" height="1.0" fill="#111"/>
<circle cx="542.21" cy="203.25" r="1.45" fill="#000"/>
<circle cx="542.21" cy="204.3" r="1.45" fill="#000"/>
<rect x="539.46" y="204.4" width="5.5" height="1.0" fill="#111"/>
<circle cx="558.75" cy="203.55" r="1.45" fill="#000"/>
<circle cx="558.75" cy="204.3" r="1.45" fill="#000"/>
<rect x="556.25" y="204.4" width="5" height="1.0" fill="#111"/>
<line x1="575.28" y1="192.2" x2="575.28" y2="196.1" stroke="#333" stroke-width="0.6" />
<line x1="575.28" y1="199.8" x2="575.28" y2="201.4" stroke="#333" stroke-width="0.6" />
<line x1="572.98" y1="192.2" x2="577.58" y2="192.2" stroke="#333" stroke-width="0.6" />
<line x1="572.98" y1="201.4" x2="577.58" y2="201.4" stroke="#333" stroke-width="0.6" />
<rect x="571.28" y="196.1" width="8" height="3.7" fill="#f2f2f2" stroke="#333" stroke-width="0.6"/>
<line x1="571.28" y1="198.1" x2="579.28" y2="198.1" stroke="#333" stroke-width="0.6" />
<circle cx="575.28" cy="183.9" r="1.45" fill="#000"/>
<circle cx="575.28" cy="190.8" r="1.45" fill="#000"/>
<line x1="591.82" y1="201" x2="591.82" y2="202.1" stroke="#222" stroke-width="0.6" />
<line x1="591.82" y1="203.4" x2="591.82" y2="204.3" stroke="#222" stroke-width="0.6" />
<line x1="589.52" y1="201" x2="594.12" y2="201" stroke="#222" stroke-width="0.6" />
<line x1="589.52" y1="204.3" x2="594.12" y2="204.3" stroke="#222" stroke-width="0.6" />
<rect x="587.82" y="202.1" width="8" height="1.3" fill="none" stroke="#222" stroke-width="0.6"/>
<line x1="587.82" y1="202.8" x2="595.82" y2="202.8" stroke="#222" stroke-width="0.6" />
<line x1="608.36" y1="194.3" x2="608.36" y2="196.8" stroke="#333" stroke-width="0.55" />
<line x1="608.36" y1="199.6" x2="608.36" y2="200.6" stroke="#333" stroke-width="0.55" />
<line x1="606.06" y1="194.3" x2="610.66" y2="194.3" stroke="#333" stroke-width="0.55" />
<line x1="606.06" y1="200.6" x2="610.66" y2="200.6" stroke="#333" stroke-width="0.55" />
<rect x="604.36" y="196.8" width="8" height="2.8" fill="none" stroke="#333" stroke-width="0.55"/>
<line x1="604.36" y1="198.1" x2="612.36" y2="198.1" stroke="#333" stroke-width="0.55" />
<circle cx="608.36" cy="202.7" r="1.45" fill="#000"/>
<line x1="624.89" y1="198.5" x2="624.89" y2="199.6" stroke="#222" stroke-width="0.6" />
<line x1="624.89" y1="201.7" x2="624.89" y2="203" stroke="#222" stroke-width="0.6" />
<line x1="622.59" y1="198.5" x2="627.19" y2="198.5" stroke="#222" stroke-width="0.6" />
<line x1="622.59" y1="203" x2="627.19" y2="203" stroke="#222" stroke-width="0.6" />
<rect x="620.89" y="199.6" width="8" height="2.1" fill="none" stroke="#222" stroke-width="0.6"/>
<line x1="620.89" y1="200.6" x2="628.89" y2="200.6" stroke="#222" stroke-width="0.6" />
<circle cx="624.89" cy="204.6" r="1.3" fill="#000"/>
<line x1="641.43" y1="173.4" x2="641.43" y2="179.2" stroke="#444" stroke-width="0.7" />
<line x1="641.43" y1="185.4" x2="641.43" y2="192.6" stroke="#444" stroke-width="0.7" />
<line x1="639.13" y1="173.4" x2="643.73" y2="173.4" stroke="#444" stroke-width="0.7" />
<line x1="639.13" y1="192.6" x2="643.73" y2="192.6" stroke="#444" stroke-width="0.7" />
<rect x="637.43" y="179.2" width="8" height="6.2" fill="none" stroke="#444" stroke-width="0.7"/>
<line x1="637.43" y1="180.6" x2="645.43" y2="180.6" stroke="#444" stroke-width="0.7" />
<line x1="637.43" y1="179.9" x2="645.43" y2="179.9" stroke="#888" stroke-width="0.8" />
<circle cx="641.43" cy="199.5" r="1.45" fill="#000"/>
<circle cx="641.43" cy="200.8" r="1.45" fill="#000"/>
<circle cx="641.43" cy="201.9" r="1.45" fill="#000"/>
<circle cx="641.43" cy="204.9" r="1.2" fill="#000"/>
<line x1="657.97" y1="181.3" x2="657.97" y2="186.5" stroke="#333" stroke-width="0.7" />
<line x1="657.97" y1="191.4" x2="657.97" y2="194" stroke="#333" stroke-width="0.7" />
<line x1="655.67" y1="181.3" x2="660.27" y2="181.3" stroke="#333" stroke-width="0.7" />
<line x1="655.67" y1="194" x2="660.27" y2="194" stroke="#333" stroke-width="0.7" />
<rect x="653.97" y="186.5" width="8" height="4.9" fill="none" stroke="#333" stroke-width="0.7"/>
<line x1="653.97" y1="188.6" x2="661.97" y2="188.6" stroke="#333" stroke-width="0.7" />
<circle cx="657.97" cy="202.4" r="1.45" fill="#000"/>
<circle cx="657.97" cy="203.4" r="1.45" fill="#000"/>
<line x1="674.5" y1="91.1" x2="674.5" y2="125.3" stroke="#222" stroke-width="0.7" />
<line x1="674.5" y1="149.4" x2="674.5" y2="184.4" stroke="#222" stroke-width="0.7" />
<line x1="672.21" y1="91.1" x2="676.8" y2="91.1" stroke="#222" stroke-width="0.7" />
<line x1="672.21" y1="184.4" x2="676.8" y2="184.4" stroke="#222" stroke-width="0.7" />
<rect x="670.5" y="125.3" width="8" height="24.1" fill="none" stroke="#222" stroke-width="0.7"/>
<line x1="670.5" y1="138.5" x2="678.5" y2="138.5" stroke="#222" stroke-width="0.7" />
<circle cx="674.5" cy="87.9" r="1.55" fill="#000"/>
<circle cx="674.5" cy="196.1" r="1.75" fill="#000"/>
<circle cx="674.5" cy="205" r="1.3" fill="#000"/>
<line x1="418.6" y1="24" x2="418.6" y2="205.9" stroke="#2a2a2a" stroke-width="1.0" />
<line x1="682.3" y1="24" x2="682.3" y2="205.9" stroke="#444" stroke-width="1.2" />
<line x1="418.1" y1="24.5" x2="682.9" y2="24.5" stroke="#444" stroke-width="1.0" />
<line x1="418.1" y1="205.4" x2="682.9" y2="205.4" stroke="#1a1a1a" stroke-width="1.0" />
<text x="550.15" y="227.4" font-size="6.0" text-anchor="middle" fill="#111" >Frequency</text>
<text x="393.4" y="114.95" font-size="6.1" text-anchor="middle" fill="#111" transform="rotate(-90 393.4 114.95)" >Duplicate Relative to Total Number of Sequences (%)</text>
</g>
<text x="387.1" y="10.4" font-size="15" text-anchor="start" fill="#000" font-weight="bold" class="pl">b</text>
<g id="panel-c" font-family='"DejaVu Sans", "Liberation Sans", sans-serif'>
<line x1="32.1" y1="499.35" x2="34.5" y2="499.35" stroke="#444" stroke-width="0.6" />
<text x="27.6" y="502.2" font-size="7.0" text-anchor="end" fill="#111" >0</text>
<line x1="32.1" y1="458.28" x2="34.5" y2="458.28" stroke="#444" stroke-width="0.6" />
<text x="27.6" y="461.13" font-size="7.0" text-anchor="end" fill="#111" >20</text>
<line x1="32.1" y1="417.21" x2="34.5" y2="417.21" stroke="#444" stroke-width="0.6" />
<text x="27.6" y="420.06" font-size="7.0" text-anchor="end" fill="#111" >40</text>
<line x1="32.1" y1="376.14" x2="34.5" y2="376.14" stroke="#444" stroke-width="0.6" />
<text x="27.6" y="378.99" font-size="7.0" text-anchor="end" fill="#111" >60</text>
<line x1="32.1" y1="335.07" x2="34.5" y2="335.07" stroke="#444" stroke-width="0.6" />
<text x="27.6" y="337.92" font-size="7.0" text-anchor="end" fill="#111" >80</text>
<line x1="32.1" y1="294" x2="34.5" y2="294" stroke="#444" stroke-width="0.6" />
<text x="27.6" y="296.85" font-size="7.0" text-anchor="end" fill="#111" >100</text>
<line x1="41.45" y1="499.35" x2="41.45" y2="496.95" stroke="#555" stroke-width="0.6" />
<text x="41.85" y="509.75" font-size="7.0" text-anchor="middle" fill="#111" >1</text>
<line x1="60.16" y1="499.35" x2="60.16" y2="496.95" stroke="#555" stroke-width="0.6" />
<text x="60.56" y="509.75" font-size="7.0" text-anchor="middle" fill="#111" >2</text>
<line x1="78.87" y1="499.35" x2="78.87" y2="496.95" stroke="#555" stroke-width="0.6" />
<text x="79.27" y="509.75" font-size="7.0" text-anchor="middle" fill="#111" >3</text>
<line x1="97.57" y1="499.35" x2="97.57" y2="496.95" stroke="#555" stroke-width="0.6" />
<text x="97.97" y="509.75" font-size="7.0" text-anchor="middle" fill="#111" >4</text>
<line x1="116.28" y1="499.35" x2="116.28" y2="496.95" stroke="#555" stroke-width="0.6" />
<text x="116.68" y="509.75" font-size="7.0" text-anchor="middle" fill="#111" >5</text>
<line x1="134.98" y1="499.35" x2="134.98" y2="496.95" stroke="#555" stroke-width="0.6" />
<text x="135.38" y="509.75" font-size="7.0" text-anchor="middle" fill="#111" >6</text>
<line x1="153.69" y1="499.35" x2="153.69" y2="496.95" stroke="#555" stroke-width="0.6" />
<text x="154.09" y="509.75" font-size="7.0" text-anchor="middle" fill="#111" >7</text>
<line x1="172.4" y1="499.35" x2="172.4" y2="496.95" stroke="#555" stroke-width="0.6" />
<text x="172.8" y="509.75" font-size="7.0" text-anchor="middle" fill="#111" >8</text>
<line x1="191.1" y1="499.35" x2="191.1" y2="496.95" stroke="#555" stroke-width="0.6" />
<text x="191.5" y="509.75" font-size="7.0" text-anchor="middle" fill="#111" >9</text>
<line x1="209.81" y1="499.35" x2="209.81" y2="496.95" stroke="#555" stroke-width="0.6" />
<text x="210.36" y="509.75" font-size="7.0" text-anchor="middle" fill="#111" >&gt;10</text>
<line x1="228.52" y1="499.35" x2="228.52" y2="496.95" stroke="#555" stroke-width="0.6" />
<text x="227.27" y="509.75" font-size="7.0" text-anchor="middle" fill="#111" >&gt;50</text>
<line x1="247.22" y1="499.35" x2="247.22" y2="496.95" stroke="#555" stroke-width="0.6" />
<text x="245.92" y="509.75" font-size="7.0" text-anchor="middle" fill="#111" >&gt;100</text>
<line x1="265.93" y1="499.35" x2="265.93" y2="496.95" stroke="#555" stroke-width="0.6" />
<text x="267.13" y="509.75" font-size="7.0" text-anchor="middle" fill="#111" >&gt;500</text>
<line x1="284.63" y1="499.35" x2="284.63" y2="496.95" stroke="#555" stroke-width="0.6" />
<text x="285.28" y="509.75" font-size="7.0" text-anchor="middle" fill="#111" >&gt;1k</text>
<line x1="303.34" y1="499.35" x2="303.34" y2="496.95" stroke="#555" stroke-width="0.6" />
<text x="303.69" y="509.75" font-size="7.0" text-anchor="middle" fill="#111" >&gt;5k</text>
<line x1="322.05" y1="499.35" x2="322.05" y2="496.95" stroke="#555" stroke-width="0.6" />
<text x="324.45" y="509.75" font-size="7.0" text-anchor="middle" fill="#111" >&gt;10k+</text>
<line x1="41.45" y1="310.6" x2="41.45" y2="315.6" stroke="#222" stroke-width="0.7" />
<line x1="41.45" y1="322.6" x2="41.45" y2="328.5" stroke="#222" stroke-width="0.7" />
<line x1="39.05" y1="310.6" x2="43.85" y2="310.6" stroke="#222" stroke-width="0.7" />
<line x1="39.05" y1="328.5" x2="43.85" y2="328.5" stroke="#222" stroke-width="0.7" />
<rect x="36.7" y="315.6" width="9.5" height="7" fill="none" stroke="#222" stroke-width="0.7"/>
<line x1="36.7" y1="320.5" x2="46.2" y2="320.5" stroke="#222" stroke-width="0.7" />
<line x1="60.16" y1="480.4" x2="60.16" y2="483.7" stroke="#2a2a2a" stroke-width="0.7" />
<line x1="60.16" y1="487.9" x2="60.16" y2="490.5" stroke="#2a2a2a" stroke-width="0.7" />
<line x1="57.76" y1="480.4" x2="62.56" y2="480.4" stroke="#2a2a2a" stroke-width="0.7" />
<line x1="57.76" y1="490.5" x2="62.56" y2="490.5" stroke="#2a2a2a" stroke-width="0.7" />
<rect x="55.66" y="483.7" width="9" height="4.2" fill="#c4c4c4" stroke="#2a2a2a" stroke-width="0.7"/>
<line x1="55.66" y1="485.9" x2="64.66" y2="485.9" stroke="#2a2a2a" stroke-width="0.7" />
<line x1="78.87" y1="493.9" x2="78.87" y2="494.6" stroke="#111" stroke-width="0.7" />
<line x1="78.87" y1="496.5" x2="78.87" y2="497.5" stroke="#111" stroke-width="0.7" />
<line x1="76.47" y1="493.9" x2="81.27" y2="493.9" stroke="#111" stroke-width="0.7" />
<line x1="76.47" y1="497.5" x2="81.27" y2="497.5" stroke="#111" stroke-width="0.7" />
<rect x="74.17" y="494.6" width="9.4" height="1.9" fill="#555" stroke="#111" stroke-width="0.7"/>
<line x1="74.17" y1="495.6" x2="83.57" y2="495.6" stroke="#111" stroke-width="0.7" />
<circle cx="78.87" cy="493.4" r="1.4" fill="#000"/>
<rect x="92.87" y="497.1" width="9.4" height="1.5" fill="#222"/>
<line x1="95.17" y1="496.7" x2="99.97" y2="496.7" stroke="#444" stroke-width="0.6" />
<rect x="111.78" y="497.8" width="9" height="1.2" fill="#222"/>
<rect x="130.78" y="498.2" width="8.4" height="0.9" fill="#333"/>
<rect x="150.69" y="498.5" width="6" height="0.7" fill="#444"/>
<circle cx="172.4" cy="499" r="1.55" fill="#000"/>
<circle cx="191.1" cy="499" r="1.55" fill="#000"/>
<circle cx="247.22" cy="499" r="1.55" fill="#000"/>
<circle cx="265.93" cy="499" r="1.55" fill="#000"/>
<circle cx="284.63" cy="499" r="1.55" fill="#000"/>
<circle cx="322.05" cy="499" r="1.55" fill="#000"/>
<line x1="209.81" y1="495" x2="209.81" y2="496.3" stroke="#333" stroke-width="0.6" />
<line x1="209.81" y1="498.4" x2="209.81" y2="499" stroke="#333" stroke-width="0.6" />
<line x1="207.41" y1="495" x2="212.21" y2="495" stroke="#333" stroke-width="0.6" />
<line x1="207.41" y1="499" x2="212.21" y2="499" stroke="#333" stroke-width="0.6" />
<rect x="205.21" y="496.3" width="9.2" height="2.1" fill="#e4e4e4" stroke="#333" stroke-width="0.6"/>
<line x1="205.21" y1="497.3" x2="214.41" y2="497.3" stroke="#333" stroke-width="0.6" />
<line x1="32.1" y1="293.45" x2="32.1" y2="499.85" stroke="#666" stroke-width="1.0" />
<line x1="331.4" y1="293.45" x2="331.4" y2="499.85" stroke="#444" stroke-width="1.2" />
<line x1="31.6" y1="294" x2="332" y2="294" stroke="#444" stroke-width="1.1" />
<line x1="31.6" y1="499.35" x2="332" y2="499.35" stroke="#1a1a1a" stroke-width="1.0" />
<text x="181.25" y="523.1" font-size="6.9" text-anchor="middle" fill="#111" >Frequency</text>
<text x="5.3" y="395.88" font-size="6.9" text-anchor="middle" fill="#111" transform="rotate(-90 5.3 395.88)" >Duplicate Relative to Unique (%)</text>
</g>
<text x="-0.8" y="293.4" font-size="15" text-anchor="start" fill="#000" font-weight="bold" class="pl">c</text>
<g id="panel-d" font-family='"DejaVu Sans", "Liberation Sans", sans-serif'>
<line x1="382.65" y1="265.92" x2="382.65" y2="534.77" stroke="#555" stroke-width="0.95" />
<line x1="682.4" y1="265.92" x2="682.4" y2="534.77" stroke="#555" stroke-width="0.95" />
<line x1="382.17" y1="266.4" x2="682.88" y2="266.4" stroke="#555" stroke-width="0.95" />
<line x1="382.17" y1="534.3" x2="682.88" y2="534.3" stroke="#555" stroke-width="0.95" />
<line x1="405.15" y1="534.3" x2="405.15" y2="539.1" stroke="#2a2a2a" stroke-width="0.8" />
<text x="405.15" y="551" font-size="7.4" text-anchor="middle" fill="#111" >-0.5</text>
<line x1="448.4" y1="534.3" x2="448.4" y2="539.1" stroke="#2a2a2a" stroke-width="0.8" />
<text x="448.4" y="551" font-size="7.4" text-anchor="middle" fill="#111" >0.0</text>
<line x1="491.65" y1="534.3" x2="491.65" y2="539.1" stroke="#2a2a2a" stroke-width="0.8" />
<text x="491.65" y="551" font-size="7.4" text-anchor="middle" fill="#111" >0.5</text>
<line x1="534.9" y1="534.3" x2="534.9" y2="539.1" stroke="#2a2a2a" stroke-width="0.8" />
<text x="534.9" y="551" font-size="7.4" text-anchor="middle" fill="#111" >1.0</text>
<line x1="578.15" y1="534.3" x2="578.15" y2="539.1" stroke="#2a2a2a" stroke-width="0.8" />
<text x="578.15" y="551" font-size="7.4" text-anchor="middle" fill="#111" >1.5</text>
<line x1="621.4" y1="534.3" x2="621.4" y2="539.1" stroke="#2a2a2a" stroke-width="0.8" />
<text x="621.4" y="551" font-size="7.4" text-anchor="middle" fill="#111" >2.0</text>
<line x1="664.65" y1="534.3" x2="664.65" y2="539.1" stroke="#2a2a2a" stroke-width="0.8" />
<text x="664.65" y="551" font-size="7.4" text-anchor="middle" fill="#111" >2.5</text>
<line x1="377.85" y1="530.8" x2="382.65" y2="530.8" stroke="#2a2a2a" stroke-width="0.8" />
<text x="372.6" y="533.6" font-size="7.4" text-anchor="end" fill="#111" >-1</text>
<line x1="377.85" y1="470.9" x2="382.65" y2="470.9" stroke="#2a2a2a" stroke-width="0.8" />
<text x="372.6" y="473.7" font-size="7.4" text-anchor="end" fill="#111" >0</text>
<line x1="377.85" y1="411" x2="382.65" y2="411" stroke="#2a2a2a" stroke-width="0.8" />
<text x="372.6" y="413.8" font-size="7.4" text-anchor="end" fill="#111" >1</text>
<line x1="377.85" y1="351.1" x2="382.65" y2="351.1" stroke="#2a2a2a" stroke-width="0.8" />
<text x="372.6" y="353.9" font-size="7.4" text-anchor="end" fill="#111" >2</text>
<line x1="377.85" y1="291.2" x2="382.65" y2="291.2" stroke="#2a2a2a" stroke-width="0.8" />
<text x="372.6" y="294" font-size="7.4" text-anchor="end" fill="#111" >3</text>
<line x1="402.7" y1="504.4" x2="451.4" y2="492.3" stroke="#222" stroke-width="0.6" />
<line x1="424" y1="507.1" x2="455.3" y2="498.2" stroke="#222" stroke-width="0.6" />
<line x1="440.5" y1="514.7" x2="460.4" y2="504.7" stroke="#222" stroke-width="0.6" />
<line x1="450.8" y1="517.3" x2="466.3" y2="510.6" stroke="#222" stroke-width="0.6" />
<circle cx="394.3" cy="276.1" r="2.2" fill="#000072"/>
<text x="398" y="278.1" font-size="6.93" text-anchor="start" fill="#111" >B. Fetal Stomach</text>
<circle cx="397.2" cy="411.7" r="2.2" fill="#000072"/>
<text x="399.9" y="413.7" font-size="6.93" text-anchor="start" fill="#111" >B. Adult Colon</text>
<circle cx="394.4" cy="424" r="2.2" fill="#000072"/>
<text x="398.1" y="425.8" font-size="6.93" text-anchor="start" fill="#111" >A. Adult Colon</text>
<circle cx="394" cy="430.9" r="2.2" fill="#000072"/>
<text x="396.8" y="435.4" font-size="6.93" text-anchor="start" fill="#111" >B. Adult Lung</text>
<circle cx="394" cy="452.6" r="2.2" fill="#000072"/>
<text x="397.2" y="457" font-size="6.93" text-anchor="start" fill="#111" >O. Adult Stomach 3</text>
<text x="394" y="449.5" font-size="6.93" text-anchor="start" fill="#111" >B. Adult Kidney</text>
<circle cx="393.7" cy="473.7" r="2.2" fill="#000072"/>
<text x="394.8" y="471.7" font-size="6.93" text-anchor="start" fill="#111" >B. Adult Stomach</text>
<circle cx="394" cy="477.9" r="2.2" fill="#000072"/>
<text x="397.6" y="480.2" font-size="6.93" text-anchor="start" fill="#111" >B. Adult Heart</text>
<circle cx="394.4" cy="486.4" r="2.2" fill="#000072"/>
<text x="397.6" y="488.9" font-size="6.93" text-anchor="start" fill="#111" >B. Adult Liver</text>
<circle cx="398.6" cy="504.4" r="2.2" fill="#000072"/>
<text x="451.3" y="490.9" font-size="6.93" text-anchor="start" fill="#111" >A. Fetal Stomach</text>
<circle cx="420.3" cy="508.1" r="2.2" fill="#f010f0"/>
<text x="456.2" y="497.2" font-size="6.93" text-anchor="start" fill="#111" >A. Adult Kidney</text>
<circle cx="437" cy="516.7" r="2.2" fill="#f010f0"/>
<text x="460.6" y="504.1" font-size="6.93" text-anchor="start" fill="#111" >A. Adult Stomach</text>
<circle cx="446.9" cy="518.8" r="2.2" fill="#f010f0"/>
<text x="466.1" y="511.2" font-size="6.93" text-anchor="start" fill="#111" >A. Adult Lung</text>
<circle cx="411.3" cy="523.9" r="2.2" fill="#f010f0"/>
<text x="411.6" y="531.7" font-size="6.93" text-anchor="start" fill="#111" >A. Adult Heart</text>
<circle cx="469.4" cy="516.9" r="2.2" fill="#22ee22"/>
<text x="472.3" y="522.9" font-size="6.93" text-anchor="start" fill="#111" >A. Adult Liver</text>
<circle cx="522.1" cy="510.8" r="2.2" fill="#f010f0"/>
<text x="524.8" y="517" font-size="6.93" text-anchor="start" fill="#111" >O. Adult Stomach 1</text>
<circle cx="541.9" cy="503" r="2.2" fill="#f010f0"/>
<text x="545" y="507.8" font-size="6.93" text-anchor="start" fill="#111" >O. Adult Stomach 2</text>
<circle cx="671.1" cy="435.8" r="2.2" fill="#f010f0"/>
<text x="621.7" y="433.2" font-size="6.93" text-anchor="start" fill="#111" >B. Fetal Colon</text>
<circle cx="647.8" cy="521.8" r="2.2" fill="#f010f0"/>
<text x="625.6" y="530.9" font-size="6.93" text-anchor="start" fill="#111" >A. Fetal Colon</text>
<circle cx="612.4" cy="281.1" r="2.1" fill="#000072"/>
<text x="619.6" y="282.9" font-size="7.9" text-anchor="start" fill="#111" >Male</text>
<circle cx="612.4" cy="290.4" r="2.0" fill="#f010f0"/>
<text x="619.3" y="292.8" font-size="7.9" text-anchor="start" fill="#111" >Female</text>
<circle cx="612.6" cy="301.1" r="2.0" fill="#22ee22"/>
<text x="618.8" y="303.5" font-size="7.9" text-anchor="start" fill="#111" >Male + Female</text>
<text x="611.3" y="312.9" font-size="7.9" text-anchor="start" fill="#111" >A. = Agilent</text>
<text x="611.5" y="323.1" font-size="7.9" text-anchor="start" fill="#111" >B. = Biochain</text>
<text x="611.3" y="333.4" font-size="7.9" text-anchor="start" fill="#111" >O. = Origene</text>
<text x="536.2" y="566.4" font-size="9.2" text-anchor="middle" fill="#111" >Expression of XIST</text>
<text x="355.9" y="410.3" font-size="9.15" text-anchor="middle" fill="#111" transform="rotate(-90 355.9 410.3)" >Expression of genes on Chromosome Y</text>
</g>
<text x="347" y="267.5" font-size="15" text-anchor="start" fill="#000" font-weight="bold" class="pl">d</text>
</svg>
</body>
</html>
